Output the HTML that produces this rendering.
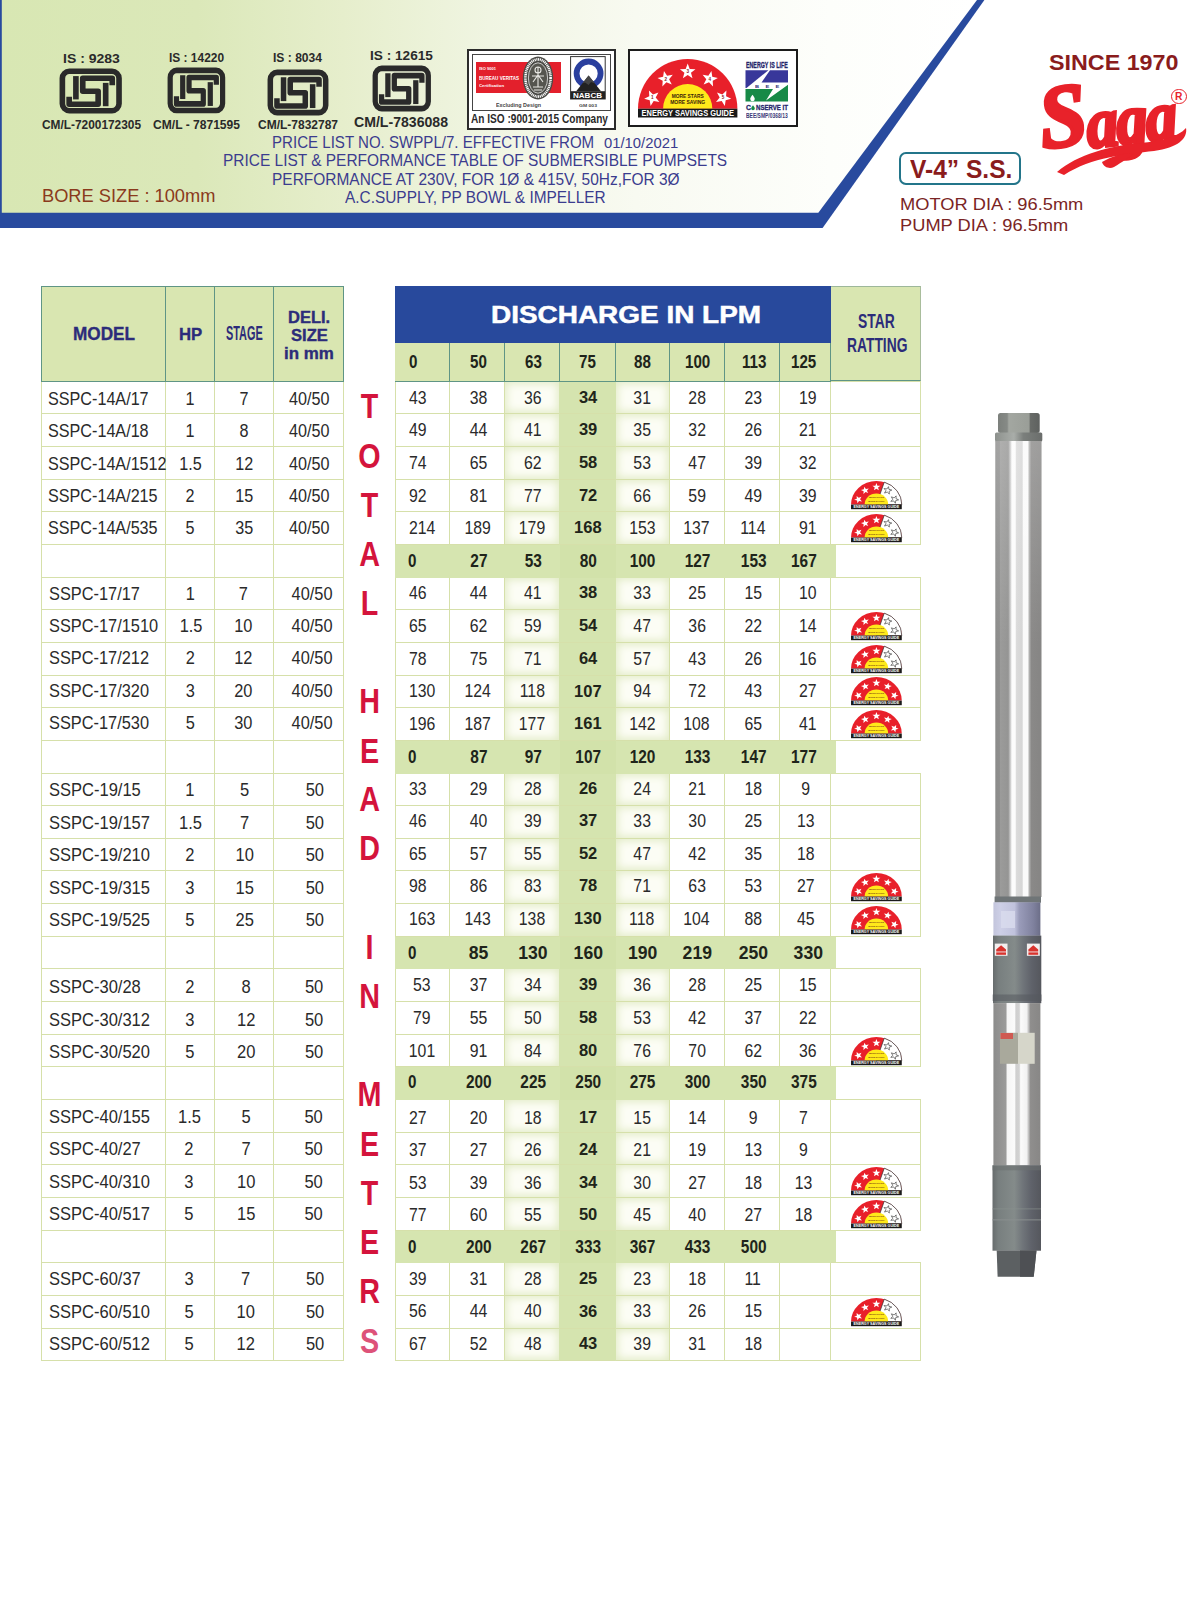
<!DOCTYPE html>
<html lang="en"><head><meta charset="utf-8"><title>Saga V-4 S.S. Price List</title>
<style>
html,body{margin:0;padding:0;background:#fff}
body{width:1200px;height:1600px;overflow:hidden;font-family:"Liberation Sans",sans-serif}
.page{position:relative;width:1200px;height:1600px;overflow:hidden;background:#fff}
.t{position:absolute;white-space:nowrap;transform-origin:0 50%}
svg{position:absolute;overflow:visible}
.abs{position:absolute}
.tbl{position:absolute}
.hc{position:absolute;top:0;box-sizing:border-box;background:#d9e6b1;border:1px solid #5f9585}
.ltbl .hc+.hc{border-left:none}
.row{position:absolute;left:0;width:100%;height:32.66px}
.c{position:absolute;top:0;height:32.66px;line-height:32.66px;box-sizing:border-box;border-right:1px solid #d6e0aa;border-bottom:1px solid #d6e0aa;text-align:center;font-size:18.3px;color:#2a2a2a;white-space:nowrap}
.c span{display:inline-block}
.row .c:first-child{border-left:1px solid #d6e0aa}
.c.m{text-align:left;padding-left:6px}
.c.m span{transform-origin:0 50%}
.c.z{text-align:left}
.c.z span{transform-origin:0 50%}
.rtbl .c{font-size:18.6px}
.bh{position:absolute;background:#28499c}
.sh{position:absolute;box-sizing:border-box;background:#d9e6b1;border-right:1px solid #5f9585;border-bottom:1px solid #5f9585}
.band{background:#d6e5b0}
.band .c{border:none!important;font-weight:bold;font-size:17.6px;color:#20241a}
.band .c:nth-child(4){background:#d2e2aa}
.c.g75{background:#d5e4af;font-weight:bold;font-size:17.2px;color:#20241a;border-right-color:#d5e4af}
.c.g63{background:#fcfdf5;box-shadow:inset 0 0 8px 1.5px #e0eac3;border-right-color:#d5e4af}
.c.g88{background:#fcfdf5;box-shadow:inset 0 0 8px 1.5px #e0eac3}
.vt{position:absolute;left:349px;top:0;width:41px}
.vt span{position:absolute;left:0;width:41px;text-align:center;font-size:35px;line-height:42px;font-weight:bold;color:#d4143c;transform:scaleX(.82)}
.hc.sc{border-left:none;border-right-color:#a9bd9c;border-top-color:#9db79a}
.c.sr{box-shadow:0 -1px 0 #d6e0aa}
</style></head>
<body>
<div class="page">
<svg class="hdrbg" width="1200" height="240" viewBox="0 0 1200 240" style="left:0;top:0">
<defs><linearGradient id="hg" x1="0" y1="0" x2="1" y2="0">
<stop offset="0" stop-color="#d8e7b3"/><stop offset="0.2" stop-color="#dbe8b9"/><stop offset="0.35" stop-color="#e6eecc"/><stop offset="0.5" stop-color="#f0f5e2"/><stop offset="0.65" stop-color="#f8faf1"/><stop offset="0.85" stop-color="#fdfefb"/><stop offset="1" stop-color="#ffffff"/></linearGradient></defs>
<polygon points="0,0 984.4,0 822.6,228 0,228" fill="#284a9e"/>
<polygon points="1.8,0 977,0 818.3,212.7 1.8,212.7" fill="url(#hg)"/>
</svg>
<svg class="isi" width="61.4" height="44.0" viewBox="0 0 61 44.7" preserveAspectRatio="none" style="left:60.3px;top:69.3px">
<g fill="none" stroke="#2a2a2a" stroke-width="5.6" stroke-linejoin="round">
<rect x="2.35" y="2.35" width="56.3" height="40" rx="7" ry="7"/>
<path d="M15.8 7.2V30.9"/>
<path d="M51.9 16.6V9.5H22.6V22.6H37.9V35.75H9.1V28.1"/>
<path d="M45.4 14.1V37.8"/>
</g></svg>
<svg class="isi" width="56.8" height="44.9" viewBox="0 0 61 44.7" preserveAspectRatio="none" style="left:167.5px;top:68.4px">
<g fill="none" stroke="#2a2a2a" stroke-width="5.6" stroke-linejoin="round">
<rect x="2.35" y="2.35" width="56.3" height="40" rx="7" ry="7"/>
<path d="M15.8 7.2V30.9"/>
<path d="M51.9 16.6V9.5H22.6V22.6H37.9V35.75H9.1V28.1"/>
<path d="M45.4 14.1V37.8"/>
</g></svg>
<svg class="isi" width="60.0" height="45.0" viewBox="0 0 61 44.7" preserveAspectRatio="none" style="left:267.5px;top:70.0px">
<g fill="none" stroke="#2a2a2a" stroke-width="5.6" stroke-linejoin="round">
<rect x="2.35" y="2.35" width="56.3" height="40" rx="7" ry="7"/>
<path d="M15.8 7.2V30.9"/>
<path d="M51.9 16.6V9.5H22.6V22.6H37.9V35.75H9.1V28.1"/>
<path d="M45.4 14.1V37.8"/>
</g></svg>
<svg class="isi" width="57.5" height="45.0" viewBox="0 0 61 44.7" preserveAspectRatio="none" style="left:372.5px;top:66.0px">
<g fill="none" stroke="#2a2a2a" stroke-width="5.6" stroke-linejoin="round">
<rect x="2.35" y="2.35" width="56.3" height="40" rx="7" ry="7"/>
<path d="M15.8 7.2V30.9"/>
<path d="M51.9 16.6V9.5H22.6V22.6H37.9V35.75H9.1V28.1"/>
<path d="M45.4 14.1V37.8"/>
</g></svg>
<div class="t" style="left:62.5px;top:50.6px;font-size:13.37px;line-height:16px;transform:scaleX(1.050);color:#2a2a2a;font-weight:bold;">IS : 9283</div>
<div class="t" style="left:168.5px;top:51.1px;font-size:12.50px;line-height:15px;transform:scaleX(0.954);color:#2a2a2a;font-weight:bold;">IS : 14220</div>
<div class="t" style="left:273.0px;top:50.5px;font-size:12.50px;line-height:15px;transform:scaleX(0.966);color:#2a2a2a;font-weight:bold;">IS : 8034</div>
<div class="t" style="left:369.5px;top:48.0px;font-size:13.37px;line-height:16px;transform:scaleX(1.021);color:#2a2a2a;font-weight:bold;">IS : 12615</div>
<div class="t" style="left:41.9px;top:116.6px;font-size:13.08px;line-height:16px;transform:scaleX(0.908);color:#2a2a2a;font-weight:bold;">CM/L-7200172305</div>
<div class="t" style="left:152.5px;top:116.6px;font-size:13.08px;line-height:16px;transform:scaleX(0.923);color:#2a2a2a;font-weight:bold;">CM/L - 7871595</div>
<div class="t" style="left:257.5px;top:117.1px;font-size:13.08px;line-height:16px;transform:scaleX(0.917);color:#2a2a2a;font-weight:bold;">CM/L-7832787</div>
<div class="t" style="left:353.5px;top:113.3px;font-size:14.83px;line-height:18px;transform:scaleX(0.951);color:#2a2a2a;font-weight:bold;">CM/L-7836088</div>
<div class="abs bvbox" style="left:467px;top:48.5px;width:145px;height:77px;border:2px solid #2c2c2c;background:#fff"></div>
<div class="abs" style="left:472px;top:53.7px;width:136.6px;height:55.6px;border:1.2px solid #444;background:#fff"></div>
<div class="abs" style="left:475.9px;top:62px;width:85px;height:30.7px;background:#e3202c"></div>
<div class="t" style="left:479.0px;top:67.3px;font-size:3.78px;line-height:5px;transform:scaleX(1.065);color:#fff;font-weight:bold;">ISO 9001</div>
<div class="t" style="left:479.0px;top:76.3px;font-size:4.94px;line-height:6px;transform:scaleX(0.918);color:#fff;font-weight:bold;">BUREAU VERITAS</div>
<div class="t" style="left:479.0px;top:83.3px;font-size:4.36px;line-height:5px;transform:scaleX(0.983);color:#fff;font-weight:bold;">Certification</div>
<svg width="34" height="46" viewBox="-17 -23 34 46" style="left:520.6px;top:54.5px">
<ellipse cx="0" cy="0" rx="15.2" ry="21.5" fill="#4a4a46"/>
<ellipse cx="0" cy="0" rx="12.6" ry="18.6" fill="none" stroke="#fff" stroke-width="2.6" stroke-dasharray="1.1 0.7"/>
<ellipse cx="0" cy="0" rx="9.6" ry="15.2" fill="#55554f" stroke="#fff" stroke-width="0.7"/>
<path d="M-6 -2H6M0 -11V9M-5 4L0 -3L5 4M-3 -8a3 3 0 1 0 6 0a3 3 0 1 0-6 0M-5 9H5M-4 12H4" fill="none" stroke="#e8e8e4" stroke-width="1.1"/>
</svg>
<svg width="36" height="44" viewBox="0 0 36 44" style="left:569.6px;top:55.8px">
<rect x="0.6" y="0.6" width="34.6" height="42.4" fill="#fff" stroke="#333" stroke-width="1"/>
<circle cx="18.6" cy="17.5" r="12" fill="none" stroke="#2a3f9e" stroke-width="5.8"/>
<path d="M18.6 19.5L31 35.2H6.2Z" fill="#222"/>
<path d="M18.6 19.5L25 27.5L21 26L18.6 29L15 26.5L12.3 27.5Z" fill="#444"/>
<rect x="0.6" y="35.2" width="34.6" height="7.8" fill="#222"/>
</svg>
<div class="t" style="left:572.8px;top:90.8px;font-size:7.27px;line-height:9px;transform:scaleX(1.105);color:#fff;font-weight:bold;">NABCB</div>
<div class="t" style="left:496.0px;top:102.5px;font-size:4.94px;line-height:6px;transform:scaleX(1.085);color:#444;font-weight:bold;">Excluding Design</div>
<div class="t" style="left:579.0px;top:103.0px;font-size:4.36px;line-height:5px;transform:scaleX(1.160);color:#444;font-weight:bold;">GM 003</div>
<div class="t" style="left:471.0px;top:112.1px;font-size:12.50px;line-height:15px;transform:scaleX(0.808);color:#2a2a2a;font-weight:bold;">An ISO :9001-2015 Company</div>
<div class="abs" style="left:627.9px;top:48.7px;width:166.6px;height:74.2px;border:2.3px solid #1c1c1c;background:#fff"></div>
<svg class="guide" width="101.4" height="60.5" viewBox="-50.70 -50.70 101.40 60.50" style="left:637.4px;top:58.2px"><g transform="scale(1 1.0)"><path d="M-49.7 0A49.7 49.7 0 0 1 49.7 0Z" fill="#e8202a"/><polygon points="-38.74,-18.32 -34.69,-14.19 -29.31,-16.31 -31.98,-11.19 -28.31,-6.73 -34.01,-7.68 -37.11,-2.80 -37.97,-8.52 -43.56,-9.97 -38.39,-12.55" fill="#fff"/><text x="-35.41" y="-9.23" font-size="4.6" font-weight="bold" fill="#8a2020" text-anchor="middle" font-family="Liberation Sans, sans-serif">1</text><polygon points="-23.73,-37.79 -20.62,-32.91 -14.92,-33.86 -18.60,-29.40 -15.93,-24.28 -21.31,-26.40 -25.36,-22.27 -25.01,-28.04 -30.18,-30.62 -24.58,-32.07" fill="#fff"/><text x="-22.02" y="-28.16" font-size="4.6" font-weight="bold" fill="#8a2020" text-anchor="middle" font-family="Liberation Sans, sans-serif">2</text><polygon points="0.00,-45.23 2.02,-39.81 7.80,-39.56 3.28,-35.96 4.82,-30.39 0.00,-33.58 -4.82,-30.39 -3.28,-35.96 -7.80,-39.56 -2.02,-39.81" fill="#fff"/><text x="0.00" y="-35.43" font-size="4.6" font-weight="bold" fill="#8a2020" text-anchor="middle" font-family="Liberation Sans, sans-serif">3</text><polygon points="23.73,-37.79 24.58,-32.07 30.18,-30.62 25.01,-28.04 25.36,-22.27 21.31,-26.40 15.93,-24.28 18.60,-29.40 14.92,-33.86 20.62,-32.91" fill="#fff"/><text x="22.02" y="-28.16" font-size="4.6" font-weight="bold" fill="#8a2020" text-anchor="middle" font-family="Liberation Sans, sans-serif">4</text><polygon points="38.74,-18.32 38.39,-12.55 43.56,-9.97 37.97,-8.52 37.11,-2.80 34.01,-7.68 28.31,-6.73 31.98,-11.19 29.31,-16.31 34.69,-14.19" fill="#fff"/><text x="35.41" y="-9.23" font-size="4.6" font-weight="bold" fill="#8a2020" text-anchor="middle" font-family="Liberation Sans, sans-serif">5</text><path d="M-24.60 0A24.60 24.60 0 0 1 24.60 0Z" fill="#ffe91a"/></g><rect x="-49.70" y="0" width="99.40" height="8.80" fill="#1a1a1a"/><text x="0" y="-10.8" font-size="5.6" font-weight="bold" fill="#3a1a08" text-anchor="middle" textLength="32" lengthAdjust="spacingAndGlyphs" font-family="Liberation Sans, sans-serif">MORE STARS</text><text x="0" y="-4.6" font-size="5.6" font-weight="bold" fill="#3a1a08" text-anchor="middle" textLength="35" lengthAdjust="spacingAndGlyphs" font-family="Liberation Sans, sans-serif">MORE SAVING</text><text x="0" y="7.50" font-size="8.6" font-weight="bold" fill="#fff" text-anchor="middle" textLength="92.4" lengthAdjust="spacingAndGlyphs" font-family="Liberation Sans, sans-serif">ENERGY SAVINGS GUIDE</text></svg>
<svg width="60" height="66" viewBox="0 0 1200 1320" style="left:738px;top:56px">
<rect x="150" y="285" width="850" height="625" fill="#fff"/>
<path d="M150 285H608L170 640H150Z" fill="#38379a"/>
<path d="M640 285H1000V530H470Z" fill="#38379a"/>
<path d="M150 660H700L560 890L1000 575V910H150Z" fill="#178a47"/>
<path d="M290 775C262 815 245 835 245 860a45 45 0 0 0 90 0c0-25-17-45-45-85z" fill="#fff"/>
<path d="M300 985c-22 30-36 46-36 64a36 36 0 0 0 72 0c0-18-14-34-36-64z" fill="#178a47"/>
</svg>
<div class="t" style="left:746.2px;top:60.8px;font-size:8.14px;line-height:10px;transform:scaleX(0.652);color:#25256a;font-weight:bold;-webkit-text-stroke:0.3px #25256a;">ENERGY IS LIFE</div>
<div class="t" style="left:754.8px;top:84.0px;font-size:4.07px;line-height:5px;transform:scaleX(1.401);color:#33337a;font-weight:bold;">B    E    E</div>
<div class="t" style="left:746.2px;top:103.2px;font-size:7.85px;line-height:9px;transform:scaleX(0.882);color:#25256a;font-weight:bold;-webkit-text-stroke:0.3px #25256a;">C</div>
<div class="t" style="left:756.0px;top:103.2px;font-size:7.85px;line-height:9px;transform:scaleX(0.775);color:#25256a;font-weight:bold;-webkit-text-stroke:0.3px #25256a;">NSERVE IT</div>
<div class="t" style="left:746.2px;top:110.9px;font-size:7.70px;line-height:9px;transform:scaleX(0.646);color:#3a3a78;font-weight:bold;">BEE/SMP/0368/13</div>
<div class="t" style="left:271.5px;top:133.4px;font-size:15.99px;line-height:19px;transform:scaleX(0.943);color:#3b3c8e;">PRICE LIST NO. SWPPL/7. EFFECTIVE FROM </div>
<div class="t" style="left:604.0px;top:134.8px;font-size:14.53px;line-height:17px;transform:scaleX(1.021);color:#3b3c8e;">01/10/2021</div>
<div class="t" style="left:223.0px;top:151.4px;font-size:15.99px;line-height:19px;transform:scaleX(0.967);color:#3b3c8e;">PRICE LIST &amp; PERFORMANCE TABLE OF SUBMERSIBLE PUMPSETS</div>
<div class="t" style="left:271.5px;top:169.7px;font-size:15.99px;line-height:19px;transform:scaleX(0.968);color:#3b3c8e;">PERFORMANCE AT 230V, FOR 1Ø &amp; 415V, 50Hz,FOR 3Ø</div>
<div class="t" style="left:345.0px;top:187.7px;font-size:15.99px;line-height:19px;transform:scaleX(0.964);color:#3b3c8e;">A.C.SUPPLY, PP BOWL &amp; IMPELLER</div>
<div class="t" style="left:41.5px;top:184.7px;font-size:18.31px;line-height:22px;transform:scaleX(0.997);color:#8a3a1c;">BORE SIZE : 100mm</div>
<div class="t" style="left:1049.0px;top:49.1px;font-size:22.82px;line-height:27px;transform:scaleX(1.021);color:#8a1c1c;font-weight:bold;">SINCE 1970</div>
<div class="abs vbox" style="left:899px;top:151.7px;width:117.5px;height:29.6px;border:2px solid #23758a;border-radius:7px;background:#fff"></div>
<div class="t" style="left:910.0px;top:153.5px;font-size:25.00px;line-height:30px;transform:scaleX(0.982);color:#8a1c1c;font-weight:bold;">V-4” S.S.</div>
<div class="t" style="left:900.0px;top:194.5px;font-size:16.86px;line-height:20px;transform:scaleX(1.083);color:#7a2424;">MOTOR DIA : 96.5mm</div>
<div class="t" style="left:900.0px;top:215.5px;font-size:16.86px;line-height:20px;transform:scaleX(1.084);color:#7a2424;">PUMP DIA : 96.5mm</div>
<div class="abs saga" style="left:1036px;top:70px;width:160px;height:110px;color:#e8222a;font-family:'Liberation Serif','DejaVu Serif',serif;font-style:italic;font-weight:bold;white-space:nowrap;-webkit-text-stroke:3.4px #e8222a">
<span class="abs" style="left:3px;top:-1px;font-size:90px;line-height:100px;transform:rotate(-7deg) scaleX(.95);transform-origin:0 50%">S</span>
<span class="abs" style="left:51px;top:4px;font-size:71px;line-height:100px;letter-spacing:-2.5px;transform:rotate(-6deg) scaleX(.90);transform-origin:0 60%">aga</span>
</div>
<svg width="150" height="50" viewBox="0 0 150 50" style="left:1040px;top:126px">
<path d="M17 46C38 28 70 20 100 17C122 15 138 11 146 2C148 12 138 22 114 25C86 28 52 31 24 49Z" fill="#e8222a"/>
<path d="M62 36C72 30 84 27 94 27C90 31 82 36 74 41C70 43 64 42 62 36Z" fill="#e8222a"/>
</svg>
<div class="abs" style="left:1171.3px;top:88.6px;width:15.4px;height:15.4px;border:1.4px solid #e8222a;border-radius:50%;box-sizing:border-box"></div>
<div class="t" style="left:1175.4px;top:90.6px;font-size:10.17px;line-height:12px;transform:scaleX(1.007);color:#e8222a;font-weight:bold;">R</div>
<div class="tbl ltbl" style="left:41.2px;top:285.6px;width:302.6px;height:1075.8px">
<div class="hc" style="left:0.0px;width:124.4px;height:96.0px"></div>
<div class="hc" style="left:124.4px;width:49.0px;height:96.0px"></div>
<div class="hc" style="left:173.4px;width:59.0px;height:96.0px"></div>
<div class="hc" style="left:232.4px;width:70.2px;height:96.0px"></div>
<div class="row" style="top:96.00px">
<div class="c m" style="left:0.0px;width:124.4px"><span style="transform:translate(0.0px,1.0px) scaleX(0.884)">SSPC-14A/17</span></div>
<div class="c" style="left:124.4px;width:49.0px"><span style="transform:translate(0.8px,1.0px) scaleX(0.884)">1</span></div>
<div class="c" style="left:173.4px;width:59.0px"><span style="transform:translate(1.0px,1.0px) scaleX(0.884)">7</span></div>
<div class="c" style="left:232.4px;width:70.2px"><span style="transform:translate(1.4px,1.0px) scaleX(0.884)">40/50</span></div>
</div>
<div class="row" style="top:128.66px">
<div class="c m" style="left:0.0px;width:124.4px"><span style="transform:translate(0.0px,1.0px) scaleX(0.884)">SSPC-14A/18</span></div>
<div class="c" style="left:124.4px;width:49.0px"><span style="transform:translate(0.8px,1.0px) scaleX(0.884)">1</span></div>
<div class="c" style="left:173.4px;width:59.0px"><span style="transform:translate(1.0px,1.0px) scaleX(0.884)">8</span></div>
<div class="c" style="left:232.4px;width:70.2px"><span style="transform:translate(1.4px,1.0px) scaleX(0.884)">40/50</span></div>
</div>
<div class="row" style="top:161.32px">
<div class="c m" style="left:0.0px;width:124.4px"><span style="transform:translate(0.0px,1.0px) scaleX(0.884)">SSPC-14A/1512</span></div>
<div class="c" style="left:124.4px;width:49.0px"><span style="transform:translate(0.8px,1.0px) scaleX(0.884)">1.5</span></div>
<div class="c" style="left:173.4px;width:59.0px"><span style="transform:translate(1.0px,1.0px) scaleX(0.884)">12</span></div>
<div class="c" style="left:232.4px;width:70.2px"><span style="transform:translate(1.4px,1.0px) scaleX(0.884)">40/50</span></div>
</div>
<div class="row" style="top:193.98px">
<div class="c m" style="left:0.0px;width:124.4px"><span style="transform:translate(0.0px,0.2px) scaleX(0.884)">SSPC-14A/215</span></div>
<div class="c" style="left:124.4px;width:49.0px"><span style="transform:translate(0.8px,0.2px) scaleX(0.884)">2</span></div>
<div class="c" style="left:173.4px;width:59.0px"><span style="transform:translate(1.0px,0.2px) scaleX(0.884)">15</span></div>
<div class="c" style="left:232.4px;width:70.2px"><span style="transform:translate(1.4px,0.2px) scaleX(0.884)">40/50</span></div>
</div>
<div class="row" style="top:226.64px">
<div class="c m" style="left:0.0px;width:124.4px"><span style="transform:translate(0.0px,0.2px) scaleX(0.884)">SSPC-14A/535</span></div>
<div class="c" style="left:124.4px;width:49.0px"><span style="transform:translate(0.8px,0.2px) scaleX(0.884)">5</span></div>
<div class="c" style="left:173.4px;width:59.0px"><span style="transform:translate(1.0px,0.2px) scaleX(0.884)">35</span></div>
<div class="c" style="left:232.4px;width:70.2px"><span style="transform:translate(1.4px,0.2px) scaleX(0.884)">40/50</span></div>
</div>
<div class="row" style="top:259.30px">
<div class="c m" style="left:0.0px;width:124.4px"></div>
<div class="c" style="left:124.4px;width:49.0px"></div>
<div class="c" style="left:173.4px;width:59.0px"></div>
<div class="c" style="left:232.4px;width:70.2px"></div>
</div>
<div class="row" style="top:291.96px">
<div class="c m" style="left:0.0px;width:124.4px"><span style="transform:translate(1.0px,-0.2px) scaleX(0.895)">SSPC-17/17</span></div>
<div class="c" style="left:124.4px;width:49.0px"><span style="transform:translate(1.3px,-0.2px) scaleX(0.895)">1</span></div>
<div class="c" style="left:173.4px;width:59.0px"><span style="transform:translate(0.2px,-0.2px) scaleX(0.895)">7</span></div>
<div class="c" style="left:232.4px;width:70.2px"><span style="transform:translate(4.2px,-0.2px) scaleX(0.895)">40/50</span></div>
</div>
<div class="row" style="top:324.62px">
<div class="c m" style="left:0.0px;width:124.4px"><span style="transform:translate(1.0px,-0.2px) scaleX(0.895)">SSPC-17/1510</span></div>
<div class="c" style="left:124.4px;width:49.0px"><span style="transform:translate(1.3px,-0.2px) scaleX(0.895)">1.5</span></div>
<div class="c" style="left:173.4px;width:59.0px"><span style="transform:translate(0.2px,-0.2px) scaleX(0.895)">10</span></div>
<div class="c" style="left:232.4px;width:70.2px"><span style="transform:translate(4.2px,-0.2px) scaleX(0.895)">40/50</span></div>
</div>
<div class="row" style="top:357.28px">
<div class="c m" style="left:0.0px;width:124.4px"><span style="transform:translate(1.0px,-0.6px) scaleX(0.895)">SSPC-17/212</span></div>
<div class="c" style="left:124.4px;width:49.0px"><span style="transform:translate(1.3px,-0.6px) scaleX(0.895)">2</span></div>
<div class="c" style="left:173.4px;width:59.0px"><span style="transform:translate(0.2px,-0.6px) scaleX(0.895)">12</span></div>
<div class="c" style="left:232.4px;width:70.2px"><span style="transform:translate(4.2px,-0.6px) scaleX(0.895)">40/50</span></div>
</div>
<div class="row" style="top:389.94px">
<div class="c m" style="left:0.0px;width:124.4px"><span style="transform:translate(1.0px,-1.0px) scaleX(0.895)">SSPC-17/320</span></div>
<div class="c" style="left:124.4px;width:49.0px"><span style="transform:translate(1.3px,-1.0px) scaleX(0.895)">3</span></div>
<div class="c" style="left:173.4px;width:59.0px"><span style="transform:translate(0.2px,-1.0px) scaleX(0.895)">20</span></div>
<div class="c" style="left:232.4px;width:70.2px"><span style="transform:translate(4.2px,-1.0px) scaleX(0.895)">40/50</span></div>
</div>
<div class="row" style="top:422.60px">
<div class="c m" style="left:0.0px;width:124.4px"><span style="transform:translate(1.0px,-0.6px) scaleX(0.895)">SSPC-17/530</span></div>
<div class="c" style="left:124.4px;width:49.0px"><span style="transform:translate(1.3px,-0.6px) scaleX(0.895)">5</span></div>
<div class="c" style="left:173.4px;width:59.0px"><span style="transform:translate(0.2px,-0.6px) scaleX(0.895)">30</span></div>
<div class="c" style="left:232.4px;width:70.2px"><span style="transform:translate(4.2px,-0.6px) scaleX(0.895)">40/50</span></div>
</div>
<div class="row" style="top:455.26px">
<div class="c m" style="left:0.0px;width:124.4px"></div>
<div class="c" style="left:124.4px;width:49.0px"></div>
<div class="c" style="left:173.4px;width:59.0px"></div>
<div class="c" style="left:232.4px;width:70.2px"></div>
</div>
<div class="row" style="top:487.92px">
<div class="c m" style="left:0.0px;width:124.4px"><span style="transform:translate(1.0px,0.2px) scaleX(0.903)">SSPC-19/15</span></div>
<div class="c" style="left:124.4px;width:49.0px"><span style="transform:translate(0.8px,0.2px) scaleX(0.903)">1</span></div>
<div class="c" style="left:173.4px;width:59.0px"><span style="transform:translate(1.5px,0.2px) scaleX(0.903)">5</span></div>
<div class="c" style="left:232.4px;width:70.2px"><span style="transform:translate(6.7px,0.2px) scaleX(0.903)">50</span></div>
</div>
<div class="row" style="top:520.58px">
<div class="c m" style="left:0.0px;width:124.4px"><span style="transform:translate(1.0px,1.0px) scaleX(0.903)">SSPC-19/157</span></div>
<div class="c" style="left:124.4px;width:49.0px"><span style="transform:translate(0.8px,1.0px) scaleX(0.903)">1.5</span></div>
<div class="c" style="left:173.4px;width:59.0px"><span style="transform:translate(1.5px,1.0px) scaleX(0.903)">7</span></div>
<div class="c" style="left:232.4px;width:70.2px"><span style="transform:translate(6.7px,1.0px) scaleX(0.903)">50</span></div>
</div>
<div class="row" style="top:553.24px">
<div class="c m" style="left:0.0px;width:124.4px"><span style="transform:translate(1.0px,0.2px) scaleX(0.903)">SSPC-19/210</span></div>
<div class="c" style="left:124.4px;width:49.0px"><span style="transform:translate(0.8px,0.2px) scaleX(0.903)">2</span></div>
<div class="c" style="left:173.4px;width:59.0px"><span style="transform:translate(1.5px,0.2px) scaleX(0.903)">10</span></div>
<div class="c" style="left:232.4px;width:70.2px"><span style="transform:translate(6.7px,0.2px) scaleX(0.903)">50</span></div>
</div>
<div class="row" style="top:585.90px">
<div class="c m" style="left:0.0px;width:124.4px"><span style="transform:translate(1.0px,1.0px) scaleX(0.903)">SSPC-19/315</span></div>
<div class="c" style="left:124.4px;width:49.0px"><span style="transform:translate(0.8px,1.0px) scaleX(0.903)">3</span></div>
<div class="c" style="left:173.4px;width:59.0px"><span style="transform:translate(1.5px,1.0px) scaleX(0.903)">15</span></div>
<div class="c" style="left:232.4px;width:70.2px"><span style="transform:translate(6.7px,1.0px) scaleX(0.903)">50</span></div>
</div>
<div class="row" style="top:618.56px">
<div class="c m" style="left:0.0px;width:124.4px"><span style="transform:translate(1.0px,0.2px) scaleX(0.903)">SSPC-19/525</span></div>
<div class="c" style="left:124.4px;width:49.0px"><span style="transform:translate(0.8px,0.2px) scaleX(0.903)">5</span></div>
<div class="c" style="left:173.4px;width:59.0px"><span style="transform:translate(1.5px,0.2px) scaleX(0.903)">25</span></div>
<div class="c" style="left:232.4px;width:70.2px"><span style="transform:translate(6.7px,0.2px) scaleX(0.903)">50</span></div>
</div>
<div class="row" style="top:651.22px">
<div class="c m" style="left:0.0px;width:124.4px"></div>
<div class="c" style="left:124.4px;width:49.0px"></div>
<div class="c" style="left:173.4px;width:59.0px"></div>
<div class="c" style="left:232.4px;width:70.2px"></div>
</div>
<div class="row" style="top:683.88px">
<div class="c m" style="left:0.0px;width:124.4px"><span style="transform:translate(1.0px,2.2px) scaleX(0.903)">SSPC-30/28</span></div>
<div class="c" style="left:124.4px;width:49.0px"><span style="transform:translate(0.8px,2.2px) scaleX(0.903)">2</span></div>
<div class="c" style="left:173.4px;width:59.0px"><span style="transform:translate(3.0px,2.2px) scaleX(0.903)">8</span></div>
<div class="c" style="left:232.4px;width:70.2px"><span style="transform:translate(5.9px,2.2px) scaleX(0.903)">50</span></div>
</div>
<div class="row" style="top:716.54px">
<div class="c m" style="left:0.0px;width:124.4px"><span style="transform:translate(1.0px,1.8px) scaleX(0.903)">SSPC-30/312</span></div>
<div class="c" style="left:124.4px;width:49.0px"><span style="transform:translate(0.8px,1.8px) scaleX(0.903)">3</span></div>
<div class="c" style="left:173.4px;width:59.0px"><span style="transform:translate(3.0px,1.8px) scaleX(0.903)">12</span></div>
<div class="c" style="left:232.4px;width:70.2px"><span style="transform:translate(5.9px,1.8px) scaleX(0.903)">50</span></div>
</div>
<div class="row" style="top:749.20px">
<div class="c m" style="left:0.0px;width:124.4px"><span style="transform:translate(1.0px,1.0px) scaleX(0.903)">SSPC-30/520</span></div>
<div class="c" style="left:124.4px;width:49.0px"><span style="transform:translate(0.8px,1.0px) scaleX(0.903)">5</span></div>
<div class="c" style="left:173.4px;width:59.0px"><span style="transform:translate(3.0px,1.0px) scaleX(0.903)">20</span></div>
<div class="c" style="left:232.4px;width:70.2px"><span style="transform:translate(5.9px,1.0px) scaleX(0.903)">50</span></div>
</div>
<div class="row" style="top:781.86px">
<div class="c m" style="left:0.0px;width:124.4px"></div>
<div class="c" style="left:124.4px;width:49.0px"></div>
<div class="c" style="left:173.4px;width:59.0px"></div>
<div class="c" style="left:232.4px;width:70.2px"></div>
</div>
<div class="row" style="top:814.52px">
<div class="c m" style="left:0.0px;width:124.4px"><span style="transform:translate(1.0px,1.0px) scaleX(0.903)">SSPC-40/155</span></div>
<div class="c" style="left:124.4px;width:49.0px"><span style="transform:translate(-0.2px,1.0px) scaleX(0.903)">1.5</span></div>
<div class="c" style="left:173.4px;width:59.0px"><span style="transform:translate(3.0px,1.0px) scaleX(0.903)">5</span></div>
<div class="c" style="left:232.4px;width:70.2px"><span style="transform:translate(5.4px,1.0px) scaleX(0.903)">50</span></div>
</div>
<div class="row" style="top:847.18px">
<div class="c m" style="left:0.0px;width:124.4px"><span style="transform:translate(1.0px,0.4px) scaleX(0.903)">SSPC-40/27</span></div>
<div class="c" style="left:124.4px;width:49.0px"><span style="transform:translate(-0.2px,0.4px) scaleX(0.903)">2</span></div>
<div class="c" style="left:173.4px;width:59.0px"><span style="transform:translate(3.0px,0.4px) scaleX(0.903)">7</span></div>
<div class="c" style="left:232.4px;width:70.2px"><span style="transform:translate(5.4px,0.4px) scaleX(0.903)">50</span></div>
</div>
<div class="row" style="top:879.84px">
<div class="c m" style="left:0.0px;width:124.4px"><span style="transform:translate(1.0px,1.0px) scaleX(0.903)">SSPC-40/310</span></div>
<div class="c" style="left:124.4px;width:49.0px"><span style="transform:translate(-0.2px,1.0px) scaleX(0.903)">3</span></div>
<div class="c" style="left:173.4px;width:59.0px"><span style="transform:translate(3.0px,1.0px) scaleX(0.903)">10</span></div>
<div class="c" style="left:232.4px;width:70.2px"><span style="transform:translate(5.4px,1.0px) scaleX(0.903)">50</span></div>
</div>
<div class="row" style="top:912.50px">
<div class="c m" style="left:0.0px;width:124.4px"><span style="transform:translate(1.0px,0.3px) scaleX(0.903)">SSPC-40/517</span></div>
<div class="c" style="left:124.4px;width:49.0px"><span style="transform:translate(-0.2px,0.3px) scaleX(0.903)">5</span></div>
<div class="c" style="left:173.4px;width:59.0px"><span style="transform:translate(3.0px,0.3px) scaleX(0.903)">15</span></div>
<div class="c" style="left:232.4px;width:70.2px"><span style="transform:translate(5.4px,0.3px) scaleX(0.903)">50</span></div>
</div>
<div class="row" style="top:945.16px">
<div class="c m" style="left:0.0px;width:124.4px"></div>
<div class="c" style="left:124.4px;width:49.0px"></div>
<div class="c" style="left:173.4px;width:59.0px"></div>
<div class="c" style="left:232.4px;width:70.2px"></div>
</div>
<div class="row" style="top:977.82px">
<div class="c m" style="left:0.0px;width:124.4px"><span style="transform:translate(1.0px,0.2px) scaleX(0.903)">SSPC-60/37</span></div>
<div class="c" style="left:124.4px;width:49.0px"><span style="transform:translate(0.0px,0.2px) scaleX(0.903)">3</span></div>
<div class="c" style="left:173.4px;width:59.0px"><span style="transform:translate(2.5px,0.2px) scaleX(0.903)">7</span></div>
<div class="c" style="left:232.4px;width:70.2px"><span style="transform:translate(6.9px,0.2px) scaleX(0.903)">50</span></div>
</div>
<div class="row" style="top:1010.48px">
<div class="c m" style="left:0.0px;width:124.4px"><span style="transform:translate(1.0px,-0.2px) scaleX(0.903)">SSPC-60/510</span></div>
<div class="c" style="left:124.4px;width:49.0px"><span style="transform:translate(0.0px,-0.2px) scaleX(0.903)">5</span></div>
<div class="c" style="left:173.4px;width:59.0px"><span style="transform:translate(2.5px,-0.2px) scaleX(0.903)">10</span></div>
<div class="c" style="left:232.4px;width:70.2px"><span style="transform:translate(6.9px,-0.2px) scaleX(0.903)">50</span></div>
</div>
<div class="row" style="top:1043.14px">
<div class="c m" style="left:0.0px;width:124.4px"><span style="transform:translate(1.0px,-1.1px) scaleX(0.903)">SSPC-60/512</span></div>
<div class="c" style="left:124.4px;width:49.0px"><span style="transform:translate(0.0px,-1.1px) scaleX(0.903)">5</span></div>
<div class="c" style="left:173.4px;width:59.0px"><span style="transform:translate(2.5px,-1.1px) scaleX(0.903)">12</span></div>
<div class="c" style="left:232.4px;width:70.2px"><span style="transform:translate(6.9px,-1.1px) scaleX(0.903)">50</span></div>
</div>
</div>
<div class="t" style="left:73.0px;top:323.9px;font-size:17.44px;line-height:21px;transform:scaleX(0.984);color:#2c2c7a;font-weight:bold;-webkit-text-stroke:0.35px #2c2c7a;">MODEL</div>
<div class="t" style="left:178.7px;top:323.9px;font-size:17.30px;line-height:21px;transform:scaleX(0.970);color:#2c2c7a;font-weight:bold;-webkit-text-stroke:0.35px #2c2c7a;">HP</div>
<div class="t" style="left:226.2px;top:321.4px;font-size:20.06px;line-height:24px;transform:scaleX(0.543);color:#2c2c7a;font-weight:bold;">STAGE</div>
<div class="t" style="left:288.0px;top:307.7px;font-size:15.99px;line-height:19px;transform:scaleX(1.033);color:#2c2c7a;font-weight:bold;-webkit-text-stroke:0.35px #2c2c7a;">DELI.</div>
<div class="t" style="left:290.6px;top:325.7px;font-size:15.99px;line-height:19px;transform:scaleX(1.038);color:#2c2c7a;font-weight:bold;-webkit-text-stroke:0.35px #2c2c7a;">SIZE</div>
<div class="t" style="left:284.3px;top:343.7px;font-size:15.99px;line-height:19px;transform:scaleX(1.060);color:#2c2c7a;font-weight:bold;-webkit-text-stroke:0.35px #2c2c7a;">in mm</div>
<div class="vt">
<span style="top:385.4px">T</span>
<span style="top:435.4px">O</span>
<span style="top:483.8px">T</span>
<span style="top:533.4px">A</span>
<span style="top:581.8px">L</span>
<span style="top:680.3px">H</span>
<span style="top:729.5px">E</span>
<span style="top:778.2px">A</span>
<span style="top:827.0px">D</span>
<span style="top:926.0px">I</span>
<span style="top:975.0px">N</span>
<span style="top:1073.0px">M</span>
<span style="top:1123.0px">E</span>
<span style="top:1171.5px">T</span>
<span style="top:1220.5px">E</span>
<span style="top:1270.0px">R</span>
<span style="top:1319.5px;color:#dd5279">S</span>
</div>
<div class="tbl rtbl" style="left:395.3px;top:285.6px;width:525.7px;height:1075.8px">
<div class="bh" style="left:0;top:0;width:435.9px;height:57.1px"></div>
<div class="sh" style="left:0.0px;top:57.1px;width:54.5px;height:38.9px"></div>
<div class="sh" style="left:54.5px;top:57.1px;width:55.2px;height:38.9px"></div>
<div class="sh" style="left:109.7px;top:57.1px;width:55.0px;height:38.9px"></div>
<div class="sh" style="left:164.7px;top:57.1px;width:55.6px;height:38.9px"></div>
<div class="sh" style="left:220.3px;top:57.1px;width:54.4px;height:38.9px"></div>
<div class="sh" style="left:274.7px;top:57.1px;width:55.0px;height:38.9px"></div>
<div class="sh" style="left:329.7px;top:57.1px;width:55.0px;height:38.9px"></div>
<div class="sh" style="left:384.7px;top:57.1px;width:51.2px;height:38.9px"></div>
<div class="hc sc" style="left:435.9px;width:89.8px;height:95.1px"></div>
<div class="row" style="top:96.00px">
<div class="c z" style="left:0.0px;width:54.5px"><span style="transform:translate(12.9px,-0.3px) scaleX(.85)">43</span></div>
<div class="c" style="left:54.5px;width:55.2px"><span style="transform:translate(1.1px,-0.3px) scaleX(.85)">38</span></div>
<div class="c g63" style="left:109.7px;width:55.0px"><span style="transform:translate(0.5px,-0.3px) scaleX(.85)">36</span></div>
<div class="c g75" style="left:164.7px;width:55.6px"><span style="transform:translate(0.5px,-0.9px) scaleX(.96)">34</span></div>
<div class="c g88" style="left:220.3px;width:54.4px"><span style="transform:translate(-0.2px,-0.3px) scaleX(.85)">31</span></div>
<div class="c" style="left:274.7px;width:55.0px"><span style="transform:translate(-0.2px,-0.3px) scaleX(.85)">28</span></div>
<div class="c" style="left:329.7px;width:55.0px"><span style="transform:translate(1.0px,-0.3px) scaleX(.85)">23</span></div>
<div class="c" style="left:384.7px;width:51.2px"><span style="transform:translate(2.4px,-0.3px) scaleX(.85)">19</span></div>
<div class="c sr" style="left:435.9px;width:89.8px"></div>
</div>
<div class="row" style="top:128.66px">
<div class="c z" style="left:0.0px;width:54.5px"><span style="transform:translate(12.9px,-0.3px) scaleX(.85)">49</span></div>
<div class="c" style="left:54.5px;width:55.2px"><span style="transform:translate(1.1px,-0.3px) scaleX(.85)">44</span></div>
<div class="c g63" style="left:109.7px;width:55.0px"><span style="transform:translate(0.5px,-0.3px) scaleX(.85)">41</span></div>
<div class="c g75" style="left:164.7px;width:55.6px"><span style="transform:translate(0.5px,-0.9px) scaleX(.96)">39</span></div>
<div class="c g88" style="left:220.3px;width:54.4px"><span style="transform:translate(-0.2px,-0.3px) scaleX(.85)">35</span></div>
<div class="c" style="left:274.7px;width:55.0px"><span style="transform:translate(-0.2px,-0.3px) scaleX(.85)">32</span></div>
<div class="c" style="left:329.7px;width:55.0px"><span style="transform:translate(1.0px,-0.3px) scaleX(.85)">26</span></div>
<div class="c" style="left:384.7px;width:51.2px"><span style="transform:translate(2.4px,-0.3px) scaleX(.85)">21</span></div>
<div class="c sr" style="left:435.9px;width:89.8px"></div>
</div>
<div class="row" style="top:161.32px">
<div class="c z" style="left:0.0px;width:54.5px"><span style="transform:translate(12.9px,-0.3px) scaleX(.85)">74</span></div>
<div class="c" style="left:54.5px;width:55.2px"><span style="transform:translate(1.1px,-0.3px) scaleX(.85)">65</span></div>
<div class="c g63" style="left:109.7px;width:55.0px"><span style="transform:translate(0.5px,-0.3px) scaleX(.85)">62</span></div>
<div class="c g75" style="left:164.7px;width:55.6px"><span style="transform:translate(0.5px,-0.9px) scaleX(.96)">58</span></div>
<div class="c g88" style="left:220.3px;width:54.4px"><span style="transform:translate(-0.2px,-0.3px) scaleX(.85)">53</span></div>
<div class="c" style="left:274.7px;width:55.0px"><span style="transform:translate(-0.2px,-0.3px) scaleX(.85)">47</span></div>
<div class="c" style="left:329.7px;width:55.0px"><span style="transform:translate(1.0px,-0.3px) scaleX(.85)">39</span></div>
<div class="c" style="left:384.7px;width:51.2px"><span style="transform:translate(2.4px,-0.3px) scaleX(.85)">32</span></div>
<div class="c sr" style="left:435.9px;width:89.8px"></div>
</div>
<div class="row" style="top:193.98px">
<div class="c z" style="left:0.0px;width:54.5px"><span style="transform:translate(12.9px,-0.3px) scaleX(.85)">92</span></div>
<div class="c" style="left:54.5px;width:55.2px"><span style="transform:translate(1.1px,-0.3px) scaleX(.85)">81</span></div>
<div class="c g63" style="left:109.7px;width:55.0px"><span style="transform:translate(0.5px,-0.3px) scaleX(.85)">77</span></div>
<div class="c g75" style="left:164.7px;width:55.6px"><span style="transform:translate(0.5px,-0.9px) scaleX(.96)">72</span></div>
<div class="c g88" style="left:220.3px;width:54.4px"><span style="transform:translate(-0.2px,-0.3px) scaleX(.85)">66</span></div>
<div class="c" style="left:274.7px;width:55.0px"><span style="transform:translate(-0.2px,-0.3px) scaleX(.85)">59</span></div>
<div class="c" style="left:329.7px;width:55.0px"><span style="transform:translate(1.0px,-0.3px) scaleX(.85)">49</span></div>
<div class="c" style="left:384.7px;width:51.2px"><span style="transform:translate(2.4px,-0.3px) scaleX(.85)">39</span></div>
<div class="c sr" style="left:435.9px;width:89.8px"></div>
</div>
<div class="row" style="top:226.64px">
<div class="c z" style="left:0.0px;width:54.5px"><span style="transform:translate(12.9px,-0.3px) scaleX(.85)">214</span></div>
<div class="c" style="left:54.5px;width:55.2px"><span style="transform:translate(1.1px,-0.3px) scaleX(.85)">189</span></div>
<div class="c g63" style="left:109.7px;width:55.0px"><span style="transform:translate(0.5px,-0.3px) scaleX(.85)">179</span></div>
<div class="c g75" style="left:164.7px;width:55.6px"><span style="transform:translate(0.5px,-0.9px) scaleX(.96)">168</span></div>
<div class="c g88" style="left:220.3px;width:54.4px"><span style="transform:translate(-0.2px,-0.3px) scaleX(.85)">153</span></div>
<div class="c" style="left:274.7px;width:55.0px"><span style="transform:translate(-0.2px,-0.3px) scaleX(.85)">137</span></div>
<div class="c" style="left:329.7px;width:55.0px"><span style="transform:translate(1.0px,-0.3px) scaleX(.85)">114</span></div>
<div class="c" style="left:384.7px;width:51.2px"><span style="transform:translate(2.4px,-0.3px) scaleX(.85)">91</span></div>
<div class="c sr" style="left:435.9px;width:89.8px"></div>
</div>
<div class="row band" style="top:259.30px;width:441.2px">
<div class="c z" style="left:0.0px;width:54.5px"><span style="transform:translate(12.9px,-0.3px) scaleX(.86)">0</span></div>
<div class="c" style="left:54.5px;width:55.2px"><span style="transform:translate(1.1px,-0.3px) scaleX(0.875)">27</span></div>
<div class="c" style="left:109.7px;width:55.0px"><span style="transform:translate(0.5px,-0.3px) scaleX(0.875)">53</span></div>
<div class="c" style="left:164.7px;width:55.6px"><span style="transform:translate(0.5px,-0.3px) scaleX(0.875)">80</span></div>
<div class="c" style="left:220.3px;width:54.4px"><span style="transform:translate(-0.2px,-0.3px) scaleX(0.875)">100</span></div>
<div class="c" style="left:274.7px;width:55.0px"><span style="transform:translate(-0.2px,-0.3px) scaleX(0.875)">127</span></div>
<div class="c" style="left:329.7px;width:55.0px"><span style="transform:translate(1.0px,-0.3px) scaleX(0.875)">153</span></div>
<div class="c" style="left:384.7px;width:51.2px"><span style="transform:translate(-1.8px,-0.3px) scaleX(0.875)">167</span></div>
</div>
<div class="row" style="top:291.96px">
<div class="c z" style="left:0.0px;width:54.5px"><span style="transform:translate(12.9px,-1.1px) scaleX(.85)">46</span></div>
<div class="c" style="left:54.5px;width:55.2px"><span style="transform:translate(1.1px,-1.1px) scaleX(.85)">44</span></div>
<div class="c g63" style="left:109.7px;width:55.0px"><span style="transform:translate(0.5px,-1.1px) scaleX(.85)">41</span></div>
<div class="c g75" style="left:164.7px;width:55.6px"><span style="transform:translate(0.5px,-1.7px) scaleX(.96)">38</span></div>
<div class="c g88" style="left:220.3px;width:54.4px"><span style="transform:translate(-0.2px,-1.1px) scaleX(.85)">33</span></div>
<div class="c" style="left:274.7px;width:55.0px"><span style="transform:translate(-0.2px,-1.1px) scaleX(.85)">25</span></div>
<div class="c" style="left:329.7px;width:55.0px"><span style="transform:translate(1.0px,-1.1px) scaleX(.85)">15</span></div>
<div class="c" style="left:384.7px;width:51.2px"><span style="transform:translate(2.4px,-1.1px) scaleX(.85)">10</span></div>
<div class="c sr" style="left:435.9px;width:89.8px"></div>
</div>
<div class="row" style="top:324.62px">
<div class="c z" style="left:0.0px;width:54.5px"><span style="transform:translate(12.9px,-0.3px) scaleX(.85)">65</span></div>
<div class="c" style="left:54.5px;width:55.2px"><span style="transform:translate(1.1px,-0.3px) scaleX(.85)">62</span></div>
<div class="c g63" style="left:109.7px;width:55.0px"><span style="transform:translate(0.5px,-0.3px) scaleX(.85)">59</span></div>
<div class="c g75" style="left:164.7px;width:55.6px"><span style="transform:translate(0.5px,-0.9px) scaleX(.96)">54</span></div>
<div class="c g88" style="left:220.3px;width:54.4px"><span style="transform:translate(-0.2px,-0.3px) scaleX(.85)">47</span></div>
<div class="c" style="left:274.7px;width:55.0px"><span style="transform:translate(-0.2px,-0.3px) scaleX(.85)">36</span></div>
<div class="c" style="left:329.7px;width:55.0px"><span style="transform:translate(1.0px,-0.3px) scaleX(.85)">22</span></div>
<div class="c" style="left:384.7px;width:51.2px"><span style="transform:translate(2.4px,-0.3px) scaleX(.85)">14</span></div>
<div class="c sr" style="left:435.9px;width:89.8px"></div>
</div>
<div class="row" style="top:357.28px">
<div class="c z" style="left:0.0px;width:54.5px"><span style="transform:translate(12.9px,-0.3px) scaleX(.85)">78</span></div>
<div class="c" style="left:54.5px;width:55.2px"><span style="transform:translate(1.1px,-0.3px) scaleX(.85)">75</span></div>
<div class="c g63" style="left:109.7px;width:55.0px"><span style="transform:translate(0.5px,-0.3px) scaleX(.85)">71</span></div>
<div class="c g75" style="left:164.7px;width:55.6px"><span style="transform:translate(0.5px,-0.9px) scaleX(.96)">64</span></div>
<div class="c g88" style="left:220.3px;width:54.4px"><span style="transform:translate(-0.2px,-0.3px) scaleX(.85)">57</span></div>
<div class="c" style="left:274.7px;width:55.0px"><span style="transform:translate(-0.2px,-0.3px) scaleX(.85)">43</span></div>
<div class="c" style="left:329.7px;width:55.0px"><span style="transform:translate(1.0px,-0.3px) scaleX(.85)">26</span></div>
<div class="c" style="left:384.7px;width:51.2px"><span style="transform:translate(2.4px,-0.3px) scaleX(.85)">16</span></div>
<div class="c sr" style="left:435.9px;width:89.8px"></div>
</div>
<div class="row" style="top:389.94px">
<div class="c z" style="left:0.0px;width:54.5px"><span style="transform:translate(12.9px,-0.9px) scaleX(.85)">130</span></div>
<div class="c" style="left:54.5px;width:55.2px"><span style="transform:translate(1.1px,-0.9px) scaleX(.85)">124</span></div>
<div class="c g63" style="left:109.7px;width:55.0px"><span style="transform:translate(0.5px,-0.9px) scaleX(.85)">118</span></div>
<div class="c g75" style="left:164.7px;width:55.6px"><span style="transform:translate(0.5px,-1.5px) scaleX(.96)">107</span></div>
<div class="c g88" style="left:220.3px;width:54.4px"><span style="transform:translate(-0.2px,-0.9px) scaleX(.85)">94</span></div>
<div class="c" style="left:274.7px;width:55.0px"><span style="transform:translate(-0.2px,-0.9px) scaleX(.85)">72</span></div>
<div class="c" style="left:329.7px;width:55.0px"><span style="transform:translate(1.0px,-0.9px) scaleX(.85)">43</span></div>
<div class="c" style="left:384.7px;width:51.2px"><span style="transform:translate(2.4px,-0.9px) scaleX(.85)">27</span></div>
<div class="c sr" style="left:435.9px;width:89.8px"></div>
</div>
<div class="row" style="top:422.60px">
<div class="c z" style="left:0.0px;width:54.5px"><span style="transform:translate(12.9px,-0.3px) scaleX(.85)">196</span></div>
<div class="c" style="left:54.5px;width:55.2px"><span style="transform:translate(1.1px,-0.3px) scaleX(.85)">187</span></div>
<div class="c g63" style="left:109.7px;width:55.0px"><span style="transform:translate(0.5px,-0.3px) scaleX(.85)">177</span></div>
<div class="c g75" style="left:164.7px;width:55.6px"><span style="transform:translate(0.5px,-0.9px) scaleX(.96)">161</span></div>
<div class="c g88" style="left:220.3px;width:54.4px"><span style="transform:translate(-0.2px,-0.3px) scaleX(.85)">142</span></div>
<div class="c" style="left:274.7px;width:55.0px"><span style="transform:translate(-0.2px,-0.3px) scaleX(.85)">108</span></div>
<div class="c" style="left:329.7px;width:55.0px"><span style="transform:translate(1.0px,-0.3px) scaleX(.85)">65</span></div>
<div class="c" style="left:384.7px;width:51.2px"><span style="transform:translate(2.4px,-0.3px) scaleX(.85)">41</span></div>
<div class="c sr" style="left:435.9px;width:89.8px"></div>
</div>
<div class="row band" style="top:455.26px;width:441.2px">
<div class="c z" style="left:0.0px;width:54.5px"><span style="transform:translate(12.9px,-0.3px) scaleX(.86)">0</span></div>
<div class="c" style="left:54.5px;width:55.2px"><span style="transform:translate(1.1px,-0.3px) scaleX(0.875)">87</span></div>
<div class="c" style="left:109.7px;width:55.0px"><span style="transform:translate(0.5px,-0.3px) scaleX(0.875)">97</span></div>
<div class="c" style="left:164.7px;width:55.6px"><span style="transform:translate(0.5px,-0.3px) scaleX(0.875)">107</span></div>
<div class="c" style="left:220.3px;width:54.4px"><span style="transform:translate(-0.2px,-0.3px) scaleX(0.875)">120</span></div>
<div class="c" style="left:274.7px;width:55.0px"><span style="transform:translate(-0.2px,-0.3px) scaleX(0.875)">133</span></div>
<div class="c" style="left:329.7px;width:55.0px"><span style="transform:translate(1.0px,-0.3px) scaleX(0.875)">147</span></div>
<div class="c" style="left:384.7px;width:51.2px"><span style="transform:translate(-1.8px,-0.3px) scaleX(0.875)">177</span></div>
</div>
<div class="row" style="top:487.92px">
<div class="c z" style="left:0.0px;width:54.5px"><span style="transform:translate(12.9px,-1.5px) scaleX(.85)">33</span></div>
<div class="c" style="left:54.5px;width:55.2px"><span style="transform:translate(1.1px,-1.5px) scaleX(.85)">29</span></div>
<div class="c g63" style="left:109.7px;width:55.0px"><span style="transform:translate(0.5px,-1.5px) scaleX(.85)">28</span></div>
<div class="c g75" style="left:164.7px;width:55.6px"><span style="transform:translate(0.5px,-2.1px) scaleX(.96)">26</span></div>
<div class="c g88" style="left:220.3px;width:54.4px"><span style="transform:translate(-0.2px,-1.5px) scaleX(.85)">24</span></div>
<div class="c" style="left:274.7px;width:55.0px"><span style="transform:translate(-0.2px,-1.5px) scaleX(.85)">21</span></div>
<div class="c" style="left:329.7px;width:55.0px"><span style="transform:translate(1.0px,-1.5px) scaleX(.85)">18</span></div>
<div class="c" style="left:384.7px;width:51.2px"><span style="transform:translate(0.4px,-1.5px) scaleX(.85)">9</span></div>
<div class="c sr" style="left:435.9px;width:89.8px"></div>
</div>
<div class="row" style="top:520.58px">
<div class="c z" style="left:0.0px;width:54.5px"><span style="transform:translate(12.9px,-1.5px) scaleX(.85)">46</span></div>
<div class="c" style="left:54.5px;width:55.2px"><span style="transform:translate(1.1px,-1.5px) scaleX(.85)">40</span></div>
<div class="c g63" style="left:109.7px;width:55.0px"><span style="transform:translate(0.5px,-1.5px) scaleX(.85)">39</span></div>
<div class="c g75" style="left:164.7px;width:55.6px"><span style="transform:translate(0.5px,-2.1px) scaleX(.96)">37</span></div>
<div class="c g88" style="left:220.3px;width:54.4px"><span style="transform:translate(-0.2px,-1.5px) scaleX(.85)">33</span></div>
<div class="c" style="left:274.7px;width:55.0px"><span style="transform:translate(-0.2px,-1.5px) scaleX(.85)">30</span></div>
<div class="c" style="left:329.7px;width:55.0px"><span style="transform:translate(1.0px,-1.5px) scaleX(.85)">25</span></div>
<div class="c" style="left:384.7px;width:51.2px"><span style="transform:translate(0.4px,-1.5px) scaleX(.85)">13</span></div>
<div class="c sr" style="left:435.9px;width:89.8px"></div>
</div>
<div class="row" style="top:553.24px">
<div class="c z" style="left:0.0px;width:54.5px"><span style="transform:translate(12.9px,-1.5px) scaleX(.85)">65</span></div>
<div class="c" style="left:54.5px;width:55.2px"><span style="transform:translate(1.1px,-1.5px) scaleX(.85)">57</span></div>
<div class="c g63" style="left:109.7px;width:55.0px"><span style="transform:translate(0.5px,-1.5px) scaleX(.85)">55</span></div>
<div class="c g75" style="left:164.7px;width:55.6px"><span style="transform:translate(0.5px,-2.1px) scaleX(.96)">52</span></div>
<div class="c g88" style="left:220.3px;width:54.4px"><span style="transform:translate(-0.2px,-1.5px) scaleX(.85)">47</span></div>
<div class="c" style="left:274.7px;width:55.0px"><span style="transform:translate(-0.2px,-1.5px) scaleX(.85)">42</span></div>
<div class="c" style="left:329.7px;width:55.0px"><span style="transform:translate(1.0px,-1.5px) scaleX(.85)">35</span></div>
<div class="c" style="left:384.7px;width:51.2px"><span style="transform:translate(0.4px,-1.5px) scaleX(.85)">18</span></div>
<div class="c sr" style="left:435.9px;width:89.8px"></div>
</div>
<div class="row" style="top:585.90px">
<div class="c z" style="left:0.0px;width:54.5px"><span style="transform:translate(12.9px,-1.1px) scaleX(.85)">98</span></div>
<div class="c" style="left:54.5px;width:55.2px"><span style="transform:translate(1.1px,-1.1px) scaleX(.85)">86</span></div>
<div class="c g63" style="left:109.7px;width:55.0px"><span style="transform:translate(0.5px,-1.1px) scaleX(.85)">83</span></div>
<div class="c g75" style="left:164.7px;width:55.6px"><span style="transform:translate(0.5px,-1.7px) scaleX(.96)">78</span></div>
<div class="c g88" style="left:220.3px;width:54.4px"><span style="transform:translate(-0.2px,-1.1px) scaleX(.85)">71</span></div>
<div class="c" style="left:274.7px;width:55.0px"><span style="transform:translate(-0.2px,-1.1px) scaleX(.85)">63</span></div>
<div class="c" style="left:329.7px;width:55.0px"><span style="transform:translate(1.0px,-1.1px) scaleX(.85)">53</span></div>
<div class="c" style="left:384.7px;width:51.2px"><span style="transform:translate(0.4px,-1.1px) scaleX(.85)">27</span></div>
<div class="c sr" style="left:435.9px;width:89.8px"></div>
</div>
<div class="row" style="top:618.56px">
<div class="c z" style="left:0.0px;width:54.5px"><span style="transform:translate(12.9px,-1.5px) scaleX(.85)">163</span></div>
<div class="c" style="left:54.5px;width:55.2px"><span style="transform:translate(1.1px,-1.5px) scaleX(.85)">143</span></div>
<div class="c g63" style="left:109.7px;width:55.0px"><span style="transform:translate(0.5px,-1.5px) scaleX(.85)">138</span></div>
<div class="c g75" style="left:164.7px;width:55.6px"><span style="transform:translate(0.5px,-2.1px) scaleX(.96)">130</span></div>
<div class="c g88" style="left:220.3px;width:54.4px"><span style="transform:translate(-0.2px,-1.5px) scaleX(.85)">118</span></div>
<div class="c" style="left:274.7px;width:55.0px"><span style="transform:translate(-0.2px,-1.5px) scaleX(.85)">104</span></div>
<div class="c" style="left:329.7px;width:55.0px"><span style="transform:translate(1.0px,-1.5px) scaleX(.85)">88</span></div>
<div class="c" style="left:384.7px;width:51.2px"><span style="transform:translate(0.4px,-1.5px) scaleX(.85)">45</span></div>
<div class="c sr" style="left:435.9px;width:89.8px"></div>
</div>
<div class="row band" style="top:651.22px;width:441.2px">
<div class="c z" style="left:0.0px;width:54.5px"><span style="transform:translate(12.9px,-0.3px) scaleX(.86)">0</span></div>
<div class="c" style="left:54.5px;width:55.2px"><span style="transform:translate(1.1px,-0.3px) scaleX(1.0)">85</span></div>
<div class="c" style="left:109.7px;width:55.0px"><span style="transform:translate(0.5px,-0.3px) scaleX(1.0)">130</span></div>
<div class="c" style="left:164.7px;width:55.6px"><span style="transform:translate(0.5px,-0.3px) scaleX(1.0)">160</span></div>
<div class="c" style="left:220.3px;width:54.4px"><span style="transform:translate(-0.2px,-0.3px) scaleX(1.0)">190</span></div>
<div class="c" style="left:274.7px;width:55.0px"><span style="transform:translate(-0.2px,-0.3px) scaleX(1.0)">219</span></div>
<div class="c" style="left:329.7px;width:55.0px"><span style="transform:translate(1.0px,-0.3px) scaleX(1.0)">250</span></div>
<div class="c" style="left:384.7px;width:51.2px"><span style="transform:translate(2.7px,-0.3px) scaleX(1.0)">330</span></div>
</div>
<div class="row" style="top:683.88px">
<div class="c" style="left:0.0px;width:54.5px"><span style="transform:translate(-0.5px,-0.3px) scaleX(.85)">53</span></div>
<div class="c" style="left:54.5px;width:55.2px"><span style="transform:translate(1.1px,-0.3px) scaleX(.85)">37</span></div>
<div class="c g63" style="left:109.7px;width:55.0px"><span style="transform:translate(0.5px,-0.3px) scaleX(.85)">34</span></div>
<div class="c g75" style="left:164.7px;width:55.6px"><span style="transform:translate(0.5px,-0.9px) scaleX(.96)">39</span></div>
<div class="c g88" style="left:220.3px;width:54.4px"><span style="transform:translate(-0.2px,-0.3px) scaleX(.85)">36</span></div>
<div class="c" style="left:274.7px;width:55.0px"><span style="transform:translate(-0.2px,-0.3px) scaleX(.85)">28</span></div>
<div class="c" style="left:329.7px;width:55.0px"><span style="transform:translate(1.0px,-0.3px) scaleX(.85)">25</span></div>
<div class="c" style="left:384.7px;width:51.2px"><span style="transform:translate(2.4px,-0.3px) scaleX(.85)">15</span></div>
<div class="c sr" style="left:435.9px;width:89.8px"></div>
</div>
<div class="row" style="top:716.54px">
<div class="c" style="left:0.0px;width:54.5px"><span style="transform:translate(-0.5px,-0.3px) scaleX(.85)">79</span></div>
<div class="c" style="left:54.5px;width:55.2px"><span style="transform:translate(1.1px,-0.3px) scaleX(.85)">55</span></div>
<div class="c g63" style="left:109.7px;width:55.0px"><span style="transform:translate(0.5px,-0.3px) scaleX(.85)">50</span></div>
<div class="c g75" style="left:164.7px;width:55.6px"><span style="transform:translate(0.5px,-0.9px) scaleX(.96)">58</span></div>
<div class="c g88" style="left:220.3px;width:54.4px"><span style="transform:translate(-0.2px,-0.3px) scaleX(.85)">53</span></div>
<div class="c" style="left:274.7px;width:55.0px"><span style="transform:translate(-0.2px,-0.3px) scaleX(.85)">42</span></div>
<div class="c" style="left:329.7px;width:55.0px"><span style="transform:translate(1.0px,-0.3px) scaleX(.85)">37</span></div>
<div class="c" style="left:384.7px;width:51.2px"><span style="transform:translate(2.4px,-0.3px) scaleX(.85)">22</span></div>
<div class="c sr" style="left:435.9px;width:89.8px"></div>
</div>
<div class="row" style="top:749.20px">
<div class="c" style="left:0.0px;width:54.5px"><span style="transform:translate(-0.5px,-0.3px) scaleX(.85)">101</span></div>
<div class="c" style="left:54.5px;width:55.2px"><span style="transform:translate(1.1px,-0.3px) scaleX(.85)">91</span></div>
<div class="c g63" style="left:109.7px;width:55.0px"><span style="transform:translate(0.5px,-0.3px) scaleX(.85)">84</span></div>
<div class="c g75" style="left:164.7px;width:55.6px"><span style="transform:translate(0.5px,-0.9px) scaleX(.96)">80</span></div>
<div class="c g88" style="left:220.3px;width:54.4px"><span style="transform:translate(-0.2px,-0.3px) scaleX(.85)">76</span></div>
<div class="c" style="left:274.7px;width:55.0px"><span style="transform:translate(-0.2px,-0.3px) scaleX(.85)">70</span></div>
<div class="c" style="left:329.7px;width:55.0px"><span style="transform:translate(1.0px,-0.3px) scaleX(.85)">62</span></div>
<div class="c" style="left:384.7px;width:51.2px"><span style="transform:translate(2.4px,-0.3px) scaleX(.85)">36</span></div>
<div class="c sr" style="left:435.9px;width:89.8px"></div>
</div>
<div class="row band" style="top:781.86px;width:441.2px">
<div class="c z" style="left:0.0px;width:54.5px"><span style="transform:translate(12.9px,-1.5px) scaleX(.86)">0</span></div>
<div class="c" style="left:54.5px;width:55.2px"><span style="transform:translate(1.1px,-1.5px) scaleX(0.875)">200</span></div>
<div class="c" style="left:109.7px;width:55.0px"><span style="transform:translate(0.5px,-1.5px) scaleX(0.875)">225</span></div>
<div class="c" style="left:164.7px;width:55.6px"><span style="transform:translate(0.5px,-1.5px) scaleX(0.875)">250</span></div>
<div class="c" style="left:220.3px;width:54.4px"><span style="transform:translate(-0.2px,-1.5px) scaleX(0.875)">275</span></div>
<div class="c" style="left:274.7px;width:55.0px"><span style="transform:translate(-0.2px,-1.5px) scaleX(0.875)">300</span></div>
<div class="c" style="left:329.7px;width:55.0px"><span style="transform:translate(1.0px,-1.5px) scaleX(0.875)">350</span></div>
<div class="c" style="left:384.7px;width:51.2px"><span style="transform:translate(-1.8px,-1.5px) scaleX(0.875)">375</span></div>
</div>
<div class="row" style="top:814.52px">
<div class="c z" style="left:0.0px;width:54.5px"><span style="transform:translate(12.9px,1.9px) scaleX(.85)">27</span></div>
<div class="c" style="left:54.5px;width:55.2px"><span style="transform:translate(1.1px,1.9px) scaleX(.85)">20</span></div>
<div class="c g63" style="left:109.7px;width:55.0px"><span style="transform:translate(0.5px,1.9px) scaleX(.85)">18</span></div>
<div class="c g75" style="left:164.7px;width:55.6px"><span style="transform:translate(0.5px,1.3px) scaleX(.96)">17</span></div>
<div class="c g88" style="left:220.3px;width:54.4px"><span style="transform:translate(-0.2px,1.9px) scaleX(.85)">15</span></div>
<div class="c" style="left:274.7px;width:55.0px"><span style="transform:translate(-0.2px,1.9px) scaleX(.85)">14</span></div>
<div class="c" style="left:329.7px;width:55.0px"><span style="transform:translate(1.0px,1.9px) scaleX(.85)">9</span></div>
<div class="c" style="left:384.7px;width:51.2px"><span style="transform:translate(-1.8px,1.9px) scaleX(.85)">7</span></div>
<div class="c sr" style="left:435.9px;width:89.8px"></div>
</div>
<div class="row" style="top:847.18px">
<div class="c z" style="left:0.0px;width:54.5px"><span style="transform:translate(12.9px,0.6px) scaleX(.85)">37</span></div>
<div class="c" style="left:54.5px;width:55.2px"><span style="transform:translate(1.1px,0.6px) scaleX(.85)">27</span></div>
<div class="c g63" style="left:109.7px;width:55.0px"><span style="transform:translate(0.5px,0.6px) scaleX(.85)">26</span></div>
<div class="c g75" style="left:164.7px;width:55.6px"><span style="transform:translate(0.5px,-0.0px) scaleX(.96)">24</span></div>
<div class="c g88" style="left:220.3px;width:54.4px"><span style="transform:translate(-0.2px,0.6px) scaleX(.85)">21</span></div>
<div class="c" style="left:274.7px;width:55.0px"><span style="transform:translate(-0.2px,0.6px) scaleX(.85)">19</span></div>
<div class="c" style="left:329.7px;width:55.0px"><span style="transform:translate(1.0px,0.6px) scaleX(.85)">13</span></div>
<div class="c" style="left:384.7px;width:51.2px"><span style="transform:translate(-1.8px,0.6px) scaleX(.85)">9</span></div>
<div class="c sr" style="left:435.9px;width:89.8px"></div>
</div>
<div class="row" style="top:879.84px">
<div class="c z" style="left:0.0px;width:54.5px"><span style="transform:translate(12.9px,1.9px) scaleX(.85)">53</span></div>
<div class="c" style="left:54.5px;width:55.2px"><span style="transform:translate(1.1px,1.9px) scaleX(.85)">39</span></div>
<div class="c g63" style="left:109.7px;width:55.0px"><span style="transform:translate(0.5px,1.9px) scaleX(.85)">36</span></div>
<div class="c g75" style="left:164.7px;width:55.6px"><span style="transform:translate(0.5px,1.3px) scaleX(.96)">34</span></div>
<div class="c g88" style="left:220.3px;width:54.4px"><span style="transform:translate(-0.2px,1.9px) scaleX(.85)">30</span></div>
<div class="c" style="left:274.7px;width:55.0px"><span style="transform:translate(-0.2px,1.9px) scaleX(.85)">27</span></div>
<div class="c" style="left:329.7px;width:55.0px"><span style="transform:translate(1.0px,1.9px) scaleX(.85)">18</span></div>
<div class="c" style="left:384.7px;width:51.2px"><span style="transform:translate(-1.8px,1.9px) scaleX(.85)">13</span></div>
<div class="c sr" style="left:435.9px;width:89.8px"></div>
</div>
<div class="row" style="top:912.50px">
<div class="c z" style="left:0.0px;width:54.5px"><span style="transform:translate(12.9px,0.9px) scaleX(.85)">77</span></div>
<div class="c" style="left:54.5px;width:55.2px"><span style="transform:translate(1.1px,0.9px) scaleX(.85)">60</span></div>
<div class="c g63" style="left:109.7px;width:55.0px"><span style="transform:translate(0.5px,0.9px) scaleX(.85)">55</span></div>
<div class="c g75" style="left:164.7px;width:55.6px"><span style="transform:translate(0.5px,0.3px) scaleX(.96)">50</span></div>
<div class="c g88" style="left:220.3px;width:54.4px"><span style="transform:translate(-0.2px,0.9px) scaleX(.85)">45</span></div>
<div class="c" style="left:274.7px;width:55.0px"><span style="transform:translate(-0.2px,0.9px) scaleX(.85)">40</span></div>
<div class="c" style="left:329.7px;width:55.0px"><span style="transform:translate(1.0px,0.9px) scaleX(.85)">27</span></div>
<div class="c" style="left:384.7px;width:51.2px"><span style="transform:translate(-1.8px,0.9px) scaleX(.85)">18</span></div>
<div class="c sr" style="left:435.9px;width:89.8px"></div>
</div>
<div class="row band" style="top:945.16px;width:441.2px">
<div class="c z" style="left:0.0px;width:54.5px"><span style="transform:translate(12.9px,-0.3px) scaleX(.86)">0</span></div>
<div class="c" style="left:54.5px;width:55.2px"><span style="transform:translate(1.1px,-0.3px) scaleX(0.875)">200</span></div>
<div class="c" style="left:109.7px;width:55.0px"><span style="transform:translate(0.5px,-0.3px) scaleX(0.875)">267</span></div>
<div class="c" style="left:164.7px;width:55.6px"><span style="transform:translate(0.5px,-0.3px) scaleX(0.875)">333</span></div>
<div class="c" style="left:220.3px;width:54.4px"><span style="transform:translate(-0.2px,-0.3px) scaleX(0.875)">367</span></div>
<div class="c" style="left:274.7px;width:55.0px"><span style="transform:translate(-0.2px,-0.3px) scaleX(0.875)">433</span></div>
<div class="c" style="left:329.7px;width:55.0px"><span style="transform:translate(1.0px,-0.3px) scaleX(0.875)">500</span></div>
<div class="c" style="left:384.7px;width:51.2px"></div>
</div>
<div class="row" style="top:977.82px">
<div class="c z" style="left:0.0px;width:54.5px"><span style="transform:translate(12.9px,-0.3px) scaleX(.85)">39</span></div>
<div class="c" style="left:54.5px;width:55.2px"><span style="transform:translate(1.1px,-0.3px) scaleX(.85)">31</span></div>
<div class="c g63" style="left:109.7px;width:55.0px"><span style="transform:translate(0.5px,-0.3px) scaleX(.85)">28</span></div>
<div class="c g75" style="left:164.7px;width:55.6px"><span style="transform:translate(0.5px,-0.9px) scaleX(.96)">25</span></div>
<div class="c g88" style="left:220.3px;width:54.4px"><span style="transform:translate(-0.2px,-0.3px) scaleX(.85)">23</span></div>
<div class="c" style="left:274.7px;width:55.0px"><span style="transform:translate(-0.2px,-0.3px) scaleX(.85)">18</span></div>
<div class="c" style="left:329.7px;width:55.0px"><span style="transform:translate(1.0px,-0.3px) scaleX(.85)">11</span></div>
<div class="c" style="left:384.7px;width:51.2px"></div>
<div class="c sr" style="left:435.9px;width:89.8px"></div>
</div>
<div class="row" style="top:1010.48px">
<div class="c z" style="left:0.0px;width:54.5px"><span style="transform:translate(12.9px,-0.9px) scaleX(.85)">56</span></div>
<div class="c" style="left:54.5px;width:55.2px"><span style="transform:translate(1.1px,-0.9px) scaleX(.85)">44</span></div>
<div class="c g63" style="left:109.7px;width:55.0px"><span style="transform:translate(0.5px,-0.9px) scaleX(.85)">40</span></div>
<div class="c g75" style="left:164.7px;width:55.6px"><span style="transform:translate(0.5px,-1.5px) scaleX(.96)">36</span></div>
<div class="c g88" style="left:220.3px;width:54.4px"><span style="transform:translate(-0.2px,-0.9px) scaleX(.85)">33</span></div>
<div class="c" style="left:274.7px;width:55.0px"><span style="transform:translate(-0.2px,-0.9px) scaleX(.85)">26</span></div>
<div class="c" style="left:329.7px;width:55.0px"><span style="transform:translate(1.0px,-0.9px) scaleX(.85)">15</span></div>
<div class="c" style="left:384.7px;width:51.2px"></div>
<div class="c sr" style="left:435.9px;width:89.8px"></div>
</div>
<div class="row" style="top:1043.14px">
<div class="c z" style="left:0.0px;width:54.5px"><span style="transform:translate(12.9px,-1.1px) scaleX(.85)">67</span></div>
<div class="c" style="left:54.5px;width:55.2px"><span style="transform:translate(1.1px,-1.1px) scaleX(.85)">52</span></div>
<div class="c g63" style="left:109.7px;width:55.0px"><span style="transform:translate(0.5px,-1.1px) scaleX(.85)">48</span></div>
<div class="c g75" style="left:164.7px;width:55.6px"><span style="transform:translate(0.5px,-1.7px) scaleX(.96)">43</span></div>
<div class="c g88" style="left:220.3px;width:54.4px"><span style="transform:translate(-0.2px,-1.1px) scaleX(.85)">39</span></div>
<div class="c" style="left:274.7px;width:55.0px"><span style="transform:translate(-0.2px,-1.1px) scaleX(.85)">31</span></div>
<div class="c" style="left:329.7px;width:55.0px"><span style="transform:translate(1.0px,-1.1px) scaleX(.85)">18</span></div>
<div class="c" style="left:384.7px;width:51.2px"></div>
<div class="c sr" style="left:435.9px;width:89.8px"></div>
</div>
</div>
<div class="t" style="left:491.0px;top:300.4px;font-size:24.56px;line-height:29px;transform:scaleX(1.138);color:#fff;font-weight:bold;-webkit-text-stroke:0.5px #fff;">DISCHARGE IN LPM</div>
<div class="t" style="left:409.1px;top:352.2px;font-size:17.59px;line-height:21px;transform:scaleX(0.861);color:#20241a;font-weight:bold;">0</div>
<div class="t" style="left:470.1px;top:352.2px;font-size:17.59px;line-height:21px;transform:scaleX(0.861);color:#20241a;font-weight:bold;">50</div>
<div class="t" style="left:524.6px;top:352.2px;font-size:17.59px;line-height:21px;transform:scaleX(0.861);color:#20241a;font-weight:bold;">63</div>
<div class="t" style="left:579.4px;top:352.2px;font-size:17.59px;line-height:21px;transform:scaleX(0.861);color:#20241a;font-weight:bold;">75</div>
<div class="t" style="left:634.2px;top:352.2px;font-size:17.59px;line-height:21px;transform:scaleX(0.861);color:#20241a;font-weight:bold;">88</div>
<div class="t" style="left:684.7px;top:352.2px;font-size:17.59px;line-height:21px;transform:scaleX(0.861);color:#20241a;font-weight:bold;">100</div>
<div class="t" style="left:742.0px;top:352.2px;font-size:17.59px;line-height:21px;transform:scaleX(0.861);color:#20241a;font-weight:bold;">113</div>
<div class="t" style="left:791.2px;top:352.2px;font-size:17.59px;line-height:21px;transform:scaleX(0.861);color:#20241a;font-weight:bold;">125</div>
<div class="t" style="left:858.3px;top:309.4px;font-size:19.77px;line-height:24px;transform:scaleX(0.701);color:#2c2c7a;font-weight:bold;">STAR</div>
<div class="t" style="left:846.7px;top:333.9px;font-size:19.48px;line-height:23px;transform:scaleX(0.710);color:#2c2c7a;font-weight:bold;">RATTING</div>
<svg class="guide" width="52.8" height="30.2" viewBox="-26.40 -24.62 52.80 30.22" style="left:850.0px;top:480.4px"><g transform="scale(1 0.93)"><path d="M-25.4 0A25.4 25.4 0 0 1 25.4 0Z" fill="#e8202a"/><path d="M0 0L7.85 -24.16A25.4 25.4 0 0 1 25.4 0Z" fill="#fff" stroke="#333" stroke-width="0.76"/><polygon points="-19.80,-9.36 -17.73,-7.25 -14.98,-8.34 -16.35,-5.72 -14.47,-3.44 -17.38,-3.92 -18.97,-1.43 -19.40,-4.35 -22.26,-5.09 -19.62,-6.41" fill="#fff"/><polygon points="-12.13,-19.31 -10.54,-16.82 -7.63,-17.31 -9.51,-15.03 -8.14,-12.41 -10.89,-13.49 -12.96,-11.38 -12.78,-14.33 -15.42,-15.65 -12.56,-16.39" fill="#fff"/><polygon points="0.00,-23.11 1.03,-20.35 3.99,-20.22 1.67,-18.38 2.46,-15.53 0.00,-17.16 -2.46,-15.53 -1.67,-18.38 -3.99,-20.22 -1.03,-20.35" fill="#fff"/><polygon points="12.13,-19.31 12.56,-16.39 15.42,-15.65 12.78,-14.33 12.96,-11.38 10.89,-13.49 8.14,-12.41 9.51,-15.03 7.63,-17.31 10.54,-16.82" fill="#fff" stroke="#444" stroke-width="0.71"/><polygon points="19.80,-9.36 19.62,-6.41 22.26,-5.09 19.40,-4.35 18.97,-1.43 17.38,-3.92 14.47,-3.44 16.35,-5.72 14.98,-8.34 17.73,-7.25" fill="#fff" stroke="#444" stroke-width="0.71"/><path d="M-11.81 0A11.81 11.81 0 0 1 11.81 0Z" fill="#ffe91a"/></g><rect x="-25.40" y="0" width="50.80" height="4.60" fill="#1a1a1a"/><text x="0" y="-6.38" font-size="2.3" font-weight="bold" fill="#7a3a10" text-anchor="middle" font-family="Liberation Sans, sans-serif">MORE STARS</text><text x="0" y="-2.83" font-size="2.3" font-weight="bold" fill="#7a3a10" text-anchor="middle" font-family="Liberation Sans, sans-serif">MORE SAVING</text><text x="0" y="3.70" font-size="4.1" font-weight="bold" fill="#fff" text-anchor="middle" textLength="45.8" lengthAdjust="spacingAndGlyphs" font-family="Liberation Sans, sans-serif">ENERGY SAVINGS GUIDE</text></svg>
<svg class="guide" width="52.8" height="30.2" viewBox="-26.40 -24.62 52.80 30.22" style="left:850.0px;top:513.0px"><g transform="scale(1 0.93)"><path d="M-25.4 0A25.4 25.4 0 0 1 25.4 0Z" fill="#e8202a"/><path d="M0 0L7.85 -24.16A25.4 25.4 0 0 1 25.4 0Z" fill="#fff" stroke="#333" stroke-width="0.76"/><polygon points="-19.80,-9.36 -17.73,-7.25 -14.98,-8.34 -16.35,-5.72 -14.47,-3.44 -17.38,-3.92 -18.97,-1.43 -19.40,-4.35 -22.26,-5.09 -19.62,-6.41" fill="#fff"/><polygon points="-12.13,-19.31 -10.54,-16.82 -7.63,-17.31 -9.51,-15.03 -8.14,-12.41 -10.89,-13.49 -12.96,-11.38 -12.78,-14.33 -15.42,-15.65 -12.56,-16.39" fill="#fff"/><polygon points="0.00,-23.11 1.03,-20.35 3.99,-20.22 1.67,-18.38 2.46,-15.53 0.00,-17.16 -2.46,-15.53 -1.67,-18.38 -3.99,-20.22 -1.03,-20.35" fill="#fff"/><polygon points="12.13,-19.31 12.56,-16.39 15.42,-15.65 12.78,-14.33 12.96,-11.38 10.89,-13.49 8.14,-12.41 9.51,-15.03 7.63,-17.31 10.54,-16.82" fill="#fff" stroke="#444" stroke-width="0.71"/><polygon points="19.80,-9.36 19.62,-6.41 22.26,-5.09 19.40,-4.35 18.97,-1.43 17.38,-3.92 14.47,-3.44 16.35,-5.72 14.98,-8.34 17.73,-7.25" fill="#fff" stroke="#444" stroke-width="0.71"/><path d="M-11.81 0A11.81 11.81 0 0 1 11.81 0Z" fill="#ffe91a"/></g><rect x="-25.40" y="0" width="50.80" height="4.60" fill="#1a1a1a"/><text x="0" y="-6.38" font-size="2.3" font-weight="bold" fill="#7a3a10" text-anchor="middle" font-family="Liberation Sans, sans-serif">MORE STARS</text><text x="0" y="-2.83" font-size="2.3" font-weight="bold" fill="#7a3a10" text-anchor="middle" font-family="Liberation Sans, sans-serif">MORE SAVING</text><text x="0" y="3.70" font-size="4.1" font-weight="bold" fill="#fff" text-anchor="middle" textLength="45.8" lengthAdjust="spacingAndGlyphs" font-family="Liberation Sans, sans-serif">ENERGY SAVINGS GUIDE</text></svg>
<svg class="guide" width="52.8" height="30.2" viewBox="-26.40 -24.62 52.80 30.22" style="left:850.0px;top:611.0px"><g transform="scale(1 0.93)"><path d="M-25.4 0A25.4 25.4 0 0 1 25.4 0Z" fill="#e8202a"/><path d="M0 0L7.85 -24.16A25.4 25.4 0 0 1 25.4 0Z" fill="#fff" stroke="#333" stroke-width="0.76"/><polygon points="-19.80,-9.36 -17.73,-7.25 -14.98,-8.34 -16.35,-5.72 -14.47,-3.44 -17.38,-3.92 -18.97,-1.43 -19.40,-4.35 -22.26,-5.09 -19.62,-6.41" fill="#fff"/><polygon points="-12.13,-19.31 -10.54,-16.82 -7.63,-17.31 -9.51,-15.03 -8.14,-12.41 -10.89,-13.49 -12.96,-11.38 -12.78,-14.33 -15.42,-15.65 -12.56,-16.39" fill="#fff"/><polygon points="0.00,-23.11 1.03,-20.35 3.99,-20.22 1.67,-18.38 2.46,-15.53 0.00,-17.16 -2.46,-15.53 -1.67,-18.38 -3.99,-20.22 -1.03,-20.35" fill="#fff"/><polygon points="12.13,-19.31 12.56,-16.39 15.42,-15.65 12.78,-14.33 12.96,-11.38 10.89,-13.49 8.14,-12.41 9.51,-15.03 7.63,-17.31 10.54,-16.82" fill="#fff" stroke="#444" stroke-width="0.71"/><polygon points="19.80,-9.36 19.62,-6.41 22.26,-5.09 19.40,-4.35 18.97,-1.43 17.38,-3.92 14.47,-3.44 16.35,-5.72 14.98,-8.34 17.73,-7.25" fill="#fff" stroke="#444" stroke-width="0.71"/><path d="M-11.81 0A11.81 11.81 0 0 1 11.81 0Z" fill="#ffe91a"/></g><rect x="-25.40" y="0" width="50.80" height="4.60" fill="#1a1a1a"/><text x="0" y="-6.38" font-size="2.3" font-weight="bold" fill="#7a3a10" text-anchor="middle" font-family="Liberation Sans, sans-serif">MORE STARS</text><text x="0" y="-2.83" font-size="2.3" font-weight="bold" fill="#7a3a10" text-anchor="middle" font-family="Liberation Sans, sans-serif">MORE SAVING</text><text x="0" y="3.70" font-size="4.1" font-weight="bold" fill="#fff" text-anchor="middle" textLength="45.8" lengthAdjust="spacingAndGlyphs" font-family="Liberation Sans, sans-serif">ENERGY SAVINGS GUIDE</text></svg>
<svg class="guide" width="52.8" height="30.2" viewBox="-26.40 -24.62 52.80 30.22" style="left:850.0px;top:643.7px"><g transform="scale(1 0.93)"><path d="M-25.4 0A25.4 25.4 0 0 1 25.4 0Z" fill="#e8202a"/><path d="M0 0L7.85 -24.16A25.4 25.4 0 0 1 25.4 0Z" fill="#fff" stroke="#333" stroke-width="0.76"/><polygon points="-19.80,-9.36 -17.73,-7.25 -14.98,-8.34 -16.35,-5.72 -14.47,-3.44 -17.38,-3.92 -18.97,-1.43 -19.40,-4.35 -22.26,-5.09 -19.62,-6.41" fill="#fff"/><polygon points="-12.13,-19.31 -10.54,-16.82 -7.63,-17.31 -9.51,-15.03 -8.14,-12.41 -10.89,-13.49 -12.96,-11.38 -12.78,-14.33 -15.42,-15.65 -12.56,-16.39" fill="#fff"/><polygon points="0.00,-23.11 1.03,-20.35 3.99,-20.22 1.67,-18.38 2.46,-15.53 0.00,-17.16 -2.46,-15.53 -1.67,-18.38 -3.99,-20.22 -1.03,-20.35" fill="#fff"/><polygon points="12.13,-19.31 12.56,-16.39 15.42,-15.65 12.78,-14.33 12.96,-11.38 10.89,-13.49 8.14,-12.41 9.51,-15.03 7.63,-17.31 10.54,-16.82" fill="#fff" stroke="#444" stroke-width="0.71"/><polygon points="19.80,-9.36 19.62,-6.41 22.26,-5.09 19.40,-4.35 18.97,-1.43 17.38,-3.92 14.47,-3.44 16.35,-5.72 14.98,-8.34 17.73,-7.25" fill="#fff" stroke="#444" stroke-width="0.71"/><path d="M-11.81 0A11.81 11.81 0 0 1 11.81 0Z" fill="#ffe91a"/></g><rect x="-25.40" y="0" width="50.80" height="4.60" fill="#1a1a1a"/><text x="0" y="-6.38" font-size="2.3" font-weight="bold" fill="#7a3a10" text-anchor="middle" font-family="Liberation Sans, sans-serif">MORE STARS</text><text x="0" y="-2.83" font-size="2.3" font-weight="bold" fill="#7a3a10" text-anchor="middle" font-family="Liberation Sans, sans-serif">MORE SAVING</text><text x="0" y="3.70" font-size="4.1" font-weight="bold" fill="#fff" text-anchor="middle" textLength="45.8" lengthAdjust="spacingAndGlyphs" font-family="Liberation Sans, sans-serif">ENERGY SAVINGS GUIDE</text></svg>
<svg class="guide" width="52.8" height="30.2" viewBox="-26.40 -24.62 52.80 30.22" style="left:850.0px;top:676.3px"><g transform="scale(1 0.93)"><path d="M-25.4 0A25.4 25.4 0 0 1 25.4 0Z" fill="#e8202a"/><polygon points="-19.80,-9.36 -17.73,-7.25 -14.98,-8.34 -16.35,-5.72 -14.47,-3.44 -17.38,-3.92 -18.97,-1.43 -19.40,-4.35 -22.26,-5.09 -19.62,-6.41" fill="#fff"/><polygon points="-12.13,-19.31 -10.54,-16.82 -7.63,-17.31 -9.51,-15.03 -8.14,-12.41 -10.89,-13.49 -12.96,-11.38 -12.78,-14.33 -15.42,-15.65 -12.56,-16.39" fill="#fff"/><polygon points="0.00,-23.11 1.03,-20.35 3.99,-20.22 1.67,-18.38 2.46,-15.53 0.00,-17.16 -2.46,-15.53 -1.67,-18.38 -3.99,-20.22 -1.03,-20.35" fill="#fff"/><polygon points="12.13,-19.31 12.56,-16.39 15.42,-15.65 12.78,-14.33 12.96,-11.38 10.89,-13.49 8.14,-12.41 9.51,-15.03 7.63,-17.31 10.54,-16.82" fill="#fff"/><polygon points="19.80,-9.36 19.62,-6.41 22.26,-5.09 19.40,-4.35 18.97,-1.43 17.38,-3.92 14.47,-3.44 16.35,-5.72 14.98,-8.34 17.73,-7.25" fill="#fff"/><path d="M-11.81 0A11.81 11.81 0 0 1 11.81 0Z" fill="#ffe91a"/></g><rect x="-25.40" y="0" width="50.80" height="4.60" fill="#1a1a1a"/><text x="0" y="-6.38" font-size="2.3" font-weight="bold" fill="#7a3a10" text-anchor="middle" font-family="Liberation Sans, sans-serif">MORE STARS</text><text x="0" y="-2.83" font-size="2.3" font-weight="bold" fill="#7a3a10" text-anchor="middle" font-family="Liberation Sans, sans-serif">MORE SAVING</text><text x="0" y="3.70" font-size="4.1" font-weight="bold" fill="#fff" text-anchor="middle" textLength="45.8" lengthAdjust="spacingAndGlyphs" font-family="Liberation Sans, sans-serif">ENERGY SAVINGS GUIDE</text></svg>
<svg class="guide" width="52.8" height="30.2" viewBox="-26.40 -24.62 52.80 30.22" style="left:850.0px;top:709.0px"><g transform="scale(1 0.93)"><path d="M-25.4 0A25.4 25.4 0 0 1 25.4 0Z" fill="#e8202a"/><polygon points="-19.80,-9.36 -17.73,-7.25 -14.98,-8.34 -16.35,-5.72 -14.47,-3.44 -17.38,-3.92 -18.97,-1.43 -19.40,-4.35 -22.26,-5.09 -19.62,-6.41" fill="#fff"/><polygon points="-12.13,-19.31 -10.54,-16.82 -7.63,-17.31 -9.51,-15.03 -8.14,-12.41 -10.89,-13.49 -12.96,-11.38 -12.78,-14.33 -15.42,-15.65 -12.56,-16.39" fill="#fff"/><polygon points="0.00,-23.11 1.03,-20.35 3.99,-20.22 1.67,-18.38 2.46,-15.53 0.00,-17.16 -2.46,-15.53 -1.67,-18.38 -3.99,-20.22 -1.03,-20.35" fill="#fff"/><polygon points="12.13,-19.31 12.56,-16.39 15.42,-15.65 12.78,-14.33 12.96,-11.38 10.89,-13.49 8.14,-12.41 9.51,-15.03 7.63,-17.31 10.54,-16.82" fill="#fff"/><polygon points="19.80,-9.36 19.62,-6.41 22.26,-5.09 19.40,-4.35 18.97,-1.43 17.38,-3.92 14.47,-3.44 16.35,-5.72 14.98,-8.34 17.73,-7.25" fill="#fff"/><path d="M-11.81 0A11.81 11.81 0 0 1 11.81 0Z" fill="#ffe91a"/></g><rect x="-25.40" y="0" width="50.80" height="4.60" fill="#1a1a1a"/><text x="0" y="-6.38" font-size="2.3" font-weight="bold" fill="#7a3a10" text-anchor="middle" font-family="Liberation Sans, sans-serif">MORE STARS</text><text x="0" y="-2.83" font-size="2.3" font-weight="bold" fill="#7a3a10" text-anchor="middle" font-family="Liberation Sans, sans-serif">MORE SAVING</text><text x="0" y="3.70" font-size="4.1" font-weight="bold" fill="#fff" text-anchor="middle" textLength="45.8" lengthAdjust="spacingAndGlyphs" font-family="Liberation Sans, sans-serif">ENERGY SAVINGS GUIDE</text></svg>
<svg class="guide" width="52.8" height="30.2" viewBox="-26.40 -24.62 52.80 30.22" style="left:850.0px;top:872.3px"><g transform="scale(1 0.93)"><path d="M-25.4 0A25.4 25.4 0 0 1 25.4 0Z" fill="#e8202a"/><polygon points="-19.80,-9.36 -17.73,-7.25 -14.98,-8.34 -16.35,-5.72 -14.47,-3.44 -17.38,-3.92 -18.97,-1.43 -19.40,-4.35 -22.26,-5.09 -19.62,-6.41" fill="#fff"/><polygon points="-12.13,-19.31 -10.54,-16.82 -7.63,-17.31 -9.51,-15.03 -8.14,-12.41 -10.89,-13.49 -12.96,-11.38 -12.78,-14.33 -15.42,-15.65 -12.56,-16.39" fill="#fff"/><polygon points="0.00,-23.11 1.03,-20.35 3.99,-20.22 1.67,-18.38 2.46,-15.53 0.00,-17.16 -2.46,-15.53 -1.67,-18.38 -3.99,-20.22 -1.03,-20.35" fill="#fff"/><polygon points="12.13,-19.31 12.56,-16.39 15.42,-15.65 12.78,-14.33 12.96,-11.38 10.89,-13.49 8.14,-12.41 9.51,-15.03 7.63,-17.31 10.54,-16.82" fill="#fff"/><polygon points="19.80,-9.36 19.62,-6.41 22.26,-5.09 19.40,-4.35 18.97,-1.43 17.38,-3.92 14.47,-3.44 16.35,-5.72 14.98,-8.34 17.73,-7.25" fill="#fff"/><path d="M-11.81 0A11.81 11.81 0 0 1 11.81 0Z" fill="#ffe91a"/></g><rect x="-25.40" y="0" width="50.80" height="4.60" fill="#1a1a1a"/><text x="0" y="-6.38" font-size="2.3" font-weight="bold" fill="#7a3a10" text-anchor="middle" font-family="Liberation Sans, sans-serif">MORE STARS</text><text x="0" y="-2.83" font-size="2.3" font-weight="bold" fill="#7a3a10" text-anchor="middle" font-family="Liberation Sans, sans-serif">MORE SAVING</text><text x="0" y="3.70" font-size="4.1" font-weight="bold" fill="#fff" text-anchor="middle" textLength="45.8" lengthAdjust="spacingAndGlyphs" font-family="Liberation Sans, sans-serif">ENERGY SAVINGS GUIDE</text></svg>
<svg class="guide" width="52.8" height="30.2" viewBox="-26.40 -24.62 52.80 30.22" style="left:850.0px;top:904.9px"><g transform="scale(1 0.93)"><path d="M-25.4 0A25.4 25.4 0 0 1 25.4 0Z" fill="#e8202a"/><polygon points="-19.80,-9.36 -17.73,-7.25 -14.98,-8.34 -16.35,-5.72 -14.47,-3.44 -17.38,-3.92 -18.97,-1.43 -19.40,-4.35 -22.26,-5.09 -19.62,-6.41" fill="#fff"/><polygon points="-12.13,-19.31 -10.54,-16.82 -7.63,-17.31 -9.51,-15.03 -8.14,-12.41 -10.89,-13.49 -12.96,-11.38 -12.78,-14.33 -15.42,-15.65 -12.56,-16.39" fill="#fff"/><polygon points="0.00,-23.11 1.03,-20.35 3.99,-20.22 1.67,-18.38 2.46,-15.53 0.00,-17.16 -2.46,-15.53 -1.67,-18.38 -3.99,-20.22 -1.03,-20.35" fill="#fff"/><polygon points="12.13,-19.31 12.56,-16.39 15.42,-15.65 12.78,-14.33 12.96,-11.38 10.89,-13.49 8.14,-12.41 9.51,-15.03 7.63,-17.31 10.54,-16.82" fill="#fff"/><polygon points="19.80,-9.36 19.62,-6.41 22.26,-5.09 19.40,-4.35 18.97,-1.43 17.38,-3.92 14.47,-3.44 16.35,-5.72 14.98,-8.34 17.73,-7.25" fill="#fff"/><path d="M-11.81 0A11.81 11.81 0 0 1 11.81 0Z" fill="#ffe91a"/></g><rect x="-25.40" y="0" width="50.80" height="4.60" fill="#1a1a1a"/><text x="0" y="-6.38" font-size="2.3" font-weight="bold" fill="#7a3a10" text-anchor="middle" font-family="Liberation Sans, sans-serif">MORE STARS</text><text x="0" y="-2.83" font-size="2.3" font-weight="bold" fill="#7a3a10" text-anchor="middle" font-family="Liberation Sans, sans-serif">MORE SAVING</text><text x="0" y="3.70" font-size="4.1" font-weight="bold" fill="#fff" text-anchor="middle" textLength="45.8" lengthAdjust="spacingAndGlyphs" font-family="Liberation Sans, sans-serif">ENERGY SAVINGS GUIDE</text></svg>
<svg class="guide" width="52.8" height="30.2" viewBox="-26.40 -24.62 52.80 30.22" style="left:850.0px;top:1035.6px"><g transform="scale(1 0.93)"><path d="M-25.4 0A25.4 25.4 0 0 1 25.4 0Z" fill="#e8202a"/><path d="M0 0L7.85 -24.16A25.4 25.4 0 0 1 25.4 0Z" fill="#fff" stroke="#333" stroke-width="0.76"/><polygon points="-19.80,-9.36 -17.73,-7.25 -14.98,-8.34 -16.35,-5.72 -14.47,-3.44 -17.38,-3.92 -18.97,-1.43 -19.40,-4.35 -22.26,-5.09 -19.62,-6.41" fill="#fff"/><polygon points="-12.13,-19.31 -10.54,-16.82 -7.63,-17.31 -9.51,-15.03 -8.14,-12.41 -10.89,-13.49 -12.96,-11.38 -12.78,-14.33 -15.42,-15.65 -12.56,-16.39" fill="#fff"/><polygon points="0.00,-23.11 1.03,-20.35 3.99,-20.22 1.67,-18.38 2.46,-15.53 0.00,-17.16 -2.46,-15.53 -1.67,-18.38 -3.99,-20.22 -1.03,-20.35" fill="#fff"/><polygon points="12.13,-19.31 12.56,-16.39 15.42,-15.65 12.78,-14.33 12.96,-11.38 10.89,-13.49 8.14,-12.41 9.51,-15.03 7.63,-17.31 10.54,-16.82" fill="#fff" stroke="#444" stroke-width="0.71"/><polygon points="19.80,-9.36 19.62,-6.41 22.26,-5.09 19.40,-4.35 18.97,-1.43 17.38,-3.92 14.47,-3.44 16.35,-5.72 14.98,-8.34 17.73,-7.25" fill="#fff" stroke="#444" stroke-width="0.71"/><path d="M-11.81 0A11.81 11.81 0 0 1 11.81 0Z" fill="#ffe91a"/></g><rect x="-25.40" y="0" width="50.80" height="4.60" fill="#1a1a1a"/><text x="0" y="-6.38" font-size="2.3" font-weight="bold" fill="#7a3a10" text-anchor="middle" font-family="Liberation Sans, sans-serif">MORE STARS</text><text x="0" y="-2.83" font-size="2.3" font-weight="bold" fill="#7a3a10" text-anchor="middle" font-family="Liberation Sans, sans-serif">MORE SAVING</text><text x="0" y="3.70" font-size="4.1" font-weight="bold" fill="#fff" text-anchor="middle" textLength="45.8" lengthAdjust="spacingAndGlyphs" font-family="Liberation Sans, sans-serif">ENERGY SAVINGS GUIDE</text></svg>
<svg class="guide" width="52.8" height="30.2" viewBox="-26.40 -24.62 52.80 30.22" style="left:850.0px;top:1166.2px"><g transform="scale(1 0.93)"><path d="M-25.4 0A25.4 25.4 0 0 1 25.4 0Z" fill="#e8202a"/><path d="M0 0L7.85 -24.16A25.4 25.4 0 0 1 25.4 0Z" fill="#fff" stroke="#333" stroke-width="0.76"/><polygon points="-19.80,-9.36 -17.73,-7.25 -14.98,-8.34 -16.35,-5.72 -14.47,-3.44 -17.38,-3.92 -18.97,-1.43 -19.40,-4.35 -22.26,-5.09 -19.62,-6.41" fill="#fff"/><polygon points="-12.13,-19.31 -10.54,-16.82 -7.63,-17.31 -9.51,-15.03 -8.14,-12.41 -10.89,-13.49 -12.96,-11.38 -12.78,-14.33 -15.42,-15.65 -12.56,-16.39" fill="#fff"/><polygon points="0.00,-23.11 1.03,-20.35 3.99,-20.22 1.67,-18.38 2.46,-15.53 0.00,-17.16 -2.46,-15.53 -1.67,-18.38 -3.99,-20.22 -1.03,-20.35" fill="#fff"/><polygon points="12.13,-19.31 12.56,-16.39 15.42,-15.65 12.78,-14.33 12.96,-11.38 10.89,-13.49 8.14,-12.41 9.51,-15.03 7.63,-17.31 10.54,-16.82" fill="#fff" stroke="#444" stroke-width="0.71"/><polygon points="19.80,-9.36 19.62,-6.41 22.26,-5.09 19.40,-4.35 18.97,-1.43 17.38,-3.92 14.47,-3.44 16.35,-5.72 14.98,-8.34 17.73,-7.25" fill="#fff" stroke="#444" stroke-width="0.71"/><path d="M-11.81 0A11.81 11.81 0 0 1 11.81 0Z" fill="#ffe91a"/></g><rect x="-25.40" y="0" width="50.80" height="4.60" fill="#1a1a1a"/><text x="0" y="-6.38" font-size="2.3" font-weight="bold" fill="#7a3a10" text-anchor="middle" font-family="Liberation Sans, sans-serif">MORE STARS</text><text x="0" y="-2.83" font-size="2.3" font-weight="bold" fill="#7a3a10" text-anchor="middle" font-family="Liberation Sans, sans-serif">MORE SAVING</text><text x="0" y="3.70" font-size="4.1" font-weight="bold" fill="#fff" text-anchor="middle" textLength="45.8" lengthAdjust="spacingAndGlyphs" font-family="Liberation Sans, sans-serif">ENERGY SAVINGS GUIDE</text></svg>
<svg class="guide" width="52.8" height="30.2" viewBox="-26.40 -24.62 52.80 30.22" style="left:850.0px;top:1198.9px"><g transform="scale(1 0.93)"><path d="M-25.4 0A25.4 25.4 0 0 1 25.4 0Z" fill="#e8202a"/><path d="M0 0L7.85 -24.16A25.4 25.4 0 0 1 25.4 0Z" fill="#fff" stroke="#333" stroke-width="0.76"/><polygon points="-19.80,-9.36 -17.73,-7.25 -14.98,-8.34 -16.35,-5.72 -14.47,-3.44 -17.38,-3.92 -18.97,-1.43 -19.40,-4.35 -22.26,-5.09 -19.62,-6.41" fill="#fff"/><polygon points="-12.13,-19.31 -10.54,-16.82 -7.63,-17.31 -9.51,-15.03 -8.14,-12.41 -10.89,-13.49 -12.96,-11.38 -12.78,-14.33 -15.42,-15.65 -12.56,-16.39" fill="#fff"/><polygon points="0.00,-23.11 1.03,-20.35 3.99,-20.22 1.67,-18.38 2.46,-15.53 0.00,-17.16 -2.46,-15.53 -1.67,-18.38 -3.99,-20.22 -1.03,-20.35" fill="#fff"/><polygon points="12.13,-19.31 12.56,-16.39 15.42,-15.65 12.78,-14.33 12.96,-11.38 10.89,-13.49 8.14,-12.41 9.51,-15.03 7.63,-17.31 10.54,-16.82" fill="#fff" stroke="#444" stroke-width="0.71"/><polygon points="19.80,-9.36 19.62,-6.41 22.26,-5.09 19.40,-4.35 18.97,-1.43 17.38,-3.92 14.47,-3.44 16.35,-5.72 14.98,-8.34 17.73,-7.25" fill="#fff" stroke="#444" stroke-width="0.71"/><path d="M-11.81 0A11.81 11.81 0 0 1 11.81 0Z" fill="#ffe91a"/></g><rect x="-25.40" y="0" width="50.80" height="4.60" fill="#1a1a1a"/><text x="0" y="-6.38" font-size="2.3" font-weight="bold" fill="#7a3a10" text-anchor="middle" font-family="Liberation Sans, sans-serif">MORE STARS</text><text x="0" y="-2.83" font-size="2.3" font-weight="bold" fill="#7a3a10" text-anchor="middle" font-family="Liberation Sans, sans-serif">MORE SAVING</text><text x="0" y="3.70" font-size="4.1" font-weight="bold" fill="#fff" text-anchor="middle" textLength="45.8" lengthAdjust="spacingAndGlyphs" font-family="Liberation Sans, sans-serif">ENERGY SAVINGS GUIDE</text></svg>
<svg class="guide" width="52.8" height="30.2" viewBox="-26.40 -24.62 52.80 30.22" style="left:850.0px;top:1296.9px"><g transform="scale(1 0.93)"><path d="M-25.4 0A25.4 25.4 0 0 1 25.4 0Z" fill="#e8202a"/><path d="M0 0L7.85 -24.16A25.4 25.4 0 0 1 25.4 0Z" fill="#fff" stroke="#333" stroke-width="0.76"/><polygon points="-19.80,-9.36 -17.73,-7.25 -14.98,-8.34 -16.35,-5.72 -14.47,-3.44 -17.38,-3.92 -18.97,-1.43 -19.40,-4.35 -22.26,-5.09 -19.62,-6.41" fill="#fff"/><polygon points="-12.13,-19.31 -10.54,-16.82 -7.63,-17.31 -9.51,-15.03 -8.14,-12.41 -10.89,-13.49 -12.96,-11.38 -12.78,-14.33 -15.42,-15.65 -12.56,-16.39" fill="#fff"/><polygon points="0.00,-23.11 1.03,-20.35 3.99,-20.22 1.67,-18.38 2.46,-15.53 0.00,-17.16 -2.46,-15.53 -1.67,-18.38 -3.99,-20.22 -1.03,-20.35" fill="#fff"/><polygon points="12.13,-19.31 12.56,-16.39 15.42,-15.65 12.78,-14.33 12.96,-11.38 10.89,-13.49 8.14,-12.41 9.51,-15.03 7.63,-17.31 10.54,-16.82" fill="#fff" stroke="#444" stroke-width="0.71"/><polygon points="19.80,-9.36 19.62,-6.41 22.26,-5.09 19.40,-4.35 18.97,-1.43 17.38,-3.92 14.47,-3.44 16.35,-5.72 14.98,-8.34 17.73,-7.25" fill="#fff" stroke="#444" stroke-width="0.71"/><path d="M-11.81 0A11.81 11.81 0 0 1 11.81 0Z" fill="#ffe91a"/></g><rect x="-25.40" y="0" width="50.80" height="4.60" fill="#1a1a1a"/><text x="0" y="-6.38" font-size="2.3" font-weight="bold" fill="#7a3a10" text-anchor="middle" font-family="Liberation Sans, sans-serif">MORE STARS</text><text x="0" y="-2.83" font-size="2.3" font-weight="bold" fill="#7a3a10" text-anchor="middle" font-family="Liberation Sans, sans-serif">MORE SAVING</text><text x="0" y="3.70" font-size="4.1" font-weight="bold" fill="#fff" text-anchor="middle" textLength="45.8" lengthAdjust="spacingAndGlyphs" font-family="Liberation Sans, sans-serif">ENERGY SAVINGS GUIDE</text></svg>
<svg class="pump" width="60" height="880" viewBox="990 400 60 880" style="left:990px;top:400px">
<defs>
<linearGradient id="pt" x1="0" y1="0" x2="1" y2="0"><stop offset="0" stop-color="#8b8b8a"/><stop offset="0.09" stop-color="#8e8e8d"/><stop offset="0.11" stop-color="#9b9b9a"/><stop offset="0.28" stop-color="#959594"/><stop offset="0.33" stop-color="#d0d0d0"/><stop offset="0.36" stop-color="#fcfcfc"/><stop offset="0.43" stop-color="#fcfcfc"/><stop offset="0.46" stop-color="#dadada"/><stop offset="0.58" stop-color="#d6d6d6"/><stop offset="0.61" stop-color="#fafafa"/><stop offset="0.70" stop-color="#fafafa"/><stop offset="0.74" stop-color="#aeaead"/><stop offset="0.78" stop-color="#8a8988"/><stop offset="1" stop-color="#868584"/></linearGradient>
<linearGradient id="pm" x1="0" y1="0" x2="1" y2="0"><stop offset="0" stop-color="#8c8c8b"/><stop offset="0.26" stop-color="#9b9b9a"/><stop offset="0.30" stop-color="#f6f6f6"/><stop offset="0.45" stop-color="#fbfbfb"/><stop offset="0.48" stop-color="#cfcfcf"/><stop offset="0.55" stop-color="#d2d2d2"/><stop offset="0.58" stop-color="#fbfbfb"/><stop offset="0.71" stop-color="#f2f2f2"/><stop offset="0.79" stop-color="#8f8e8d"/><stop offset="1" stop-color="#888786"/></linearGradient>
<linearGradient id="pd" x1="0" y1="0" x2="1" y2="0"><stop offset="0" stop-color="#676c6d"/><stop offset="0.12" stop-color="#787f7f"/><stop offset="0.45" stop-color="#848b8a"/><stop offset="0.62" stop-color="#70757a"/><stop offset="0.8" stop-color="#5f626a"/><stop offset="1" stop-color="#55575d"/></linearGradient>
<linearGradient id="pc" x1="0" y1="0" x2="1" y2="0"><stop offset="0" stop-color="#c3c5dc"/><stop offset="0.15" stop-color="#cdcfe6"/><stop offset="0.45" stop-color="#c0c2dc"/><stop offset="0.55" stop-color="#9a9cba"/><stop offset="0.85" stop-color="#7f819e"/><stop offset="1" stop-color="#6c6e88"/></linearGradient>
<linearGradient id="pn" x1="0" y1="0" x2="1" y2="0"><stop offset="0" stop-color="#7c807c"/><stop offset="0.22" stop-color="#868a86"/><stop offset="0.26" stop-color="#a3a7a1"/><stop offset="0.74" stop-color="#9a9e98"/><stop offset="0.78" stop-color="#686b68"/><stop offset="1" stop-color="#5e615f"/></linearGradient>
<linearGradient id="pf" x1="0" y1="0" x2="1" y2="0"><stop offset="0" stop-color="#8d918d"/><stop offset="0.4" stop-color="#a9ada9"/><stop offset="0.6" stop-color="#7b7f7c"/><stop offset="1" stop-color="#6a6d6b"/></linearGradient>
<linearGradient id="pv" x1="0" y1="0" x2="0" y2="1"><stop offset="0" stop-color="#fff" stop-opacity="0.2"/><stop offset="0.25" stop-color="#fff" stop-opacity="0.08"/><stop offset="0.45" stop-color="#fff" stop-opacity="0"/></linearGradient>
</defs>
<rect x="998" y="413" width="41.7" height="20" rx="2.5" fill="url(#pn)"/>
<rect x="995" y="432.6" width="47.3" height="9" rx="1.5" fill="url(#pf)"/>
<rect x="995.3" y="441" width="46.2" height="456" fill="url(#pt)"/>
<rect x="995.3" y="441" width="46.2" height="456" fill="url(#pv)"/>
<rect x="994.6" y="896.5" width="46.4" height="6.2" fill="#6f7577"/>
<rect x="993.4" y="902.3" width="47" height="33.5" fill="url(#pc)"/>
<rect x="1001" y="911" width="14" height="17" fill="#dadcee" opacity="0.8"/>
<rect x="993" y="935.6" width="48.3" height="67.6" fill="url(#pd)"/>
<rect x="992.6" y="994.5" width="49" height="6.5" fill="#55595f" opacity="0.55"/>
<rect x="994.8" y="943.6" width="12.7" height="12.2" fill="#f3eeee"/><path d="M996.2 949.5L1001.1 945.2L1006 949.5V951.6H996.2Z" fill="#d8332e"/><rect x="996.2" y="952.4" width="9.8" height="2.4" fill="#d8332e"/>
<rect x="1026.9" y="943.6" width="12.9" height="12.2" fill="#f3eeee"/><path d="M1028.4 949.5L1033.3 945.2L1038.2 949.5V951.6H1028.4Z" fill="#d8332e"/><rect x="1028.4" y="952.4" width="9.8" height="2.4" fill="#d8332e"/>
<rect x="993.4" y="1003.1" width="47" height="162.4" fill="url(#pm)"/>
<rect x="1000" y="1032.8" width="18" height="31" fill="#a9a99c"/>
<rect x="1018" y="1032.8" width="16.7" height="31" fill="#d6d6ca"/>
<rect x="1000.5" y="1033" width="12.5" height="6" fill="#cf5a52"/>
<rect x="992.5" y="1165.3" width="48.5" height="85.4" fill="url(#pd)"/>
<rect x="992.5" y="1165.3" width="48.5" height="5" fill="#6a6f70" opacity="0.6"/>
<rect x="992.5" y="1219" width="48.5" height="1.6" fill="#8a908f" opacity="0.6"/>
<rect x="992.5" y="1208" width="48.5" height="1.6" fill="#8a908f" opacity="0.4"/>
<path d="M996.7 1250.6H1036.5L1033.7 1276.8H997.6Z" fill="#5c6062"/>
<path d="M1020 1250.6H1036.5L1033.7 1276.8H1020Z" fill="#4e5054"/>
</svg>
</div>
</body></html>
